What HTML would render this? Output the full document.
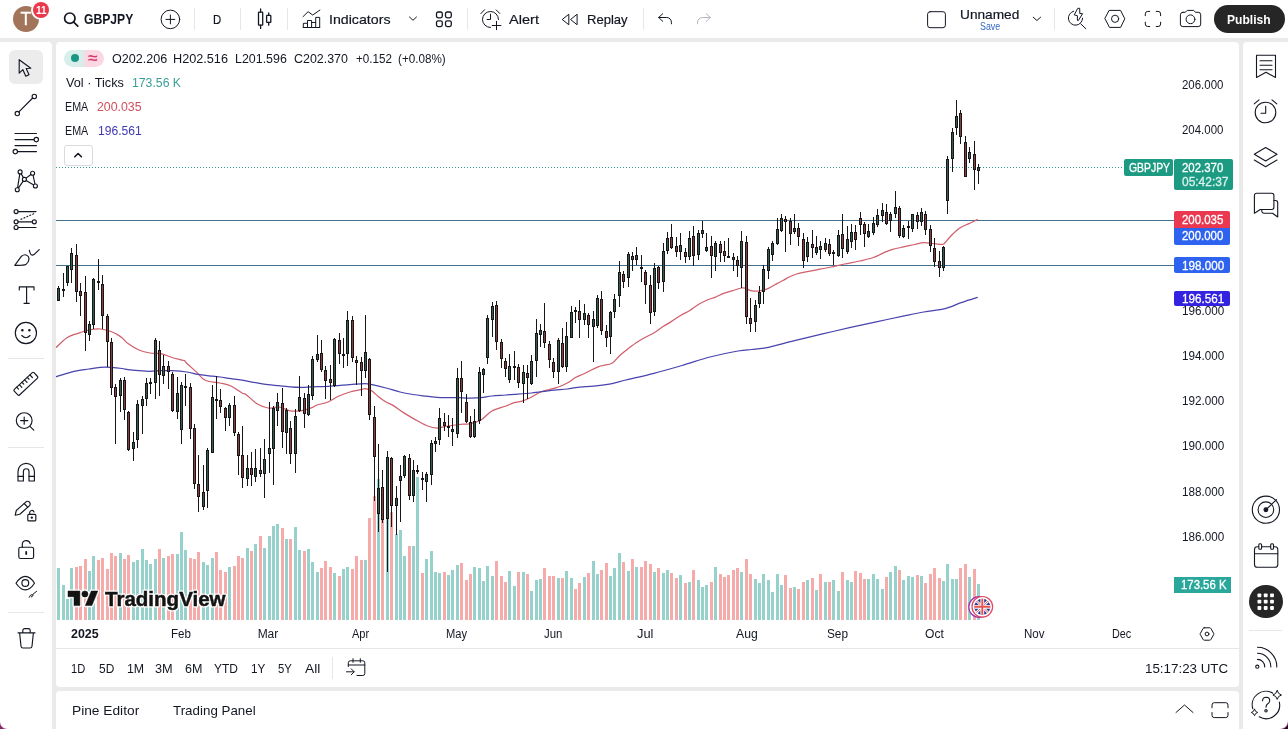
<!DOCTYPE html>
<html lang="en"><head><meta charset="utf-8"><title>GBPJPY chart</title>
<style>
*{box-sizing:border-box;margin:0;padding:0}
html,body{width:1288px;height:729px;overflow:hidden;background:#eaeaea;font-family:"Liberation Sans","DejaVu Sans",sans-serif;color:#131722}
.abs{position:absolute}
.panel{position:absolute;background:#fff}
.t{position:absolute;white-space:nowrap;line-height:16px;height:16px;font-size:13px;color:#131722}
.tag{position:absolute;border-radius:2px;z-index:2}
.vsep{position:absolute;width:1px;background:#e6e7eb}
.hsep{position:absolute;height:1px;background:#e6e7eb}
svg{overflow:visible}
.ic{position:absolute;fill:none;stroke:#131722;stroke-width:1;stroke-linecap:round;stroke-linejoin:round}
</style></head><body>
<!-- panels -->
<div class="panel" id="topbar" style="left:0;top:0;width:1288px;height:38px"></div>
<div class="panel" id="leftbar" style="left:0;top:42px;width:52px;height:687px;border-radius:0 4px 0 0"></div>
<div class="panel" id="chartpane" style="left:56px;top:42px;width:1183px;height:645px;border-radius:4px"></div>
<div class="panel" id="botpane" style="left:56px;top:691px;width:1183px;height:38px;border-radius:4px 4px 0 0"></div>
<div class="panel" id="rightbar" style="left:1243px;top:42px;width:45px;height:687px;border-radius:4px 0 0 0"></div>

<svg class="abs" style="left:0;top:0" width="1288" height="729" viewBox="0 0 1288 729" shape-rendering="crispEdges"><rect x="57" y="568.1" width="3" height="51.9" fill="#96d1cc"/><rect x="62" y="585.2" width="3" height="34.8" fill="#96d1cc"/><rect x="66" y="599.2" width="3" height="20.8" fill="#96d1cc"/><rect x="70" y="568.1" width="3" height="51.9" fill="#96d1cc"/><rect x="75" y="567.0" width="3" height="53.0" fill="#f4abaa"/><rect x="79" y="566.3" width="3" height="53.7" fill="#f4abaa"/><rect x="84" y="558.5" width="3" height="61.5" fill="#f4abaa"/><rect x="88" y="571.2" width="3" height="48.8" fill="#96d1cc"/><rect x="92" y="556.0" width="3" height="64.0" fill="#96d1cc"/><rect x="97" y="560.3" width="3" height="59.7" fill="#f4abaa"/><rect x="101" y="558.3" width="3" height="61.7" fill="#f4abaa"/><rect x="106" y="569.0" width="3" height="51.0" fill="#f4abaa"/><rect x="110" y="553.2" width="3" height="66.8" fill="#f4abaa"/><rect x="114" y="556.0" width="3" height="64.0" fill="#f4abaa"/><rect x="119" y="553.2" width="3" height="66.8" fill="#96d1cc"/><rect x="123" y="559.0" width="3" height="61.0" fill="#f4abaa"/><rect x="127" y="555.3" width="3" height="64.7" fill="#f4abaa"/><rect x="132" y="562.0" width="3" height="58.0" fill="#96d1cc"/><rect x="136" y="560.3" width="3" height="59.7" fill="#96d1cc"/><rect x="141" y="549.4" width="3" height="70.6" fill="#96d1cc"/><rect x="145" y="560.3" width="3" height="59.7" fill="#96d1cc"/><rect x="149" y="564.0" width="3" height="56.0" fill="#96d1cc"/><rect x="154" y="559.0" width="3" height="61.0" fill="#96d1cc"/><rect x="158" y="549.4" width="3" height="70.6" fill="#f4abaa"/><rect x="162" y="558.3" width="3" height="61.7" fill="#96d1cc"/><rect x="167" y="556.0" width="3" height="64.0" fill="#f4abaa"/><rect x="171" y="554.2" width="3" height="65.8" fill="#f4abaa"/><rect x="176" y="554.2" width="3" height="65.8" fill="#96d1cc"/><rect x="180" y="532.0" width="3" height="88.0" fill="#96d1cc"/><rect x="184" y="550.2" width="3" height="69.8" fill="#96d1cc"/><rect x="189" y="558.3" width="3" height="61.7" fill="#f4abaa"/><rect x="193" y="559.0" width="3" height="61.0" fill="#f4abaa"/><rect x="197" y="552.3" width="3" height="67.7" fill="#f4abaa"/><rect x="202" y="562.0" width="3" height="58.0" fill="#96d1cc"/><rect x="206" y="565.0" width="3" height="55.0" fill="#96d1cc"/><rect x="211" y="558.3" width="3" height="61.7" fill="#96d1cc"/><rect x="215" y="552.3" width="3" height="67.7" fill="#f4abaa"/><rect x="219" y="570.4" width="3" height="49.6" fill="#f4abaa"/><rect x="224" y="572.4" width="3" height="47.6" fill="#f4abaa"/><rect x="228" y="567.0" width="3" height="53.0" fill="#96d1cc"/><rect x="233" y="566.3" width="3" height="53.7" fill="#f4abaa"/><rect x="237" y="556.2" width="3" height="63.8" fill="#f4abaa"/><rect x="241" y="558.3" width="3" height="61.7" fill="#f4abaa"/><rect x="246" y="548.2" width="3" height="71.8" fill="#96d1cc"/><rect x="250" y="551.2" width="3" height="68.8" fill="#f4abaa"/><rect x="254" y="544.0" width="3" height="76.0" fill="#96d1cc"/><rect x="259" y="536.0" width="3" height="84.0" fill="#f4abaa"/><rect x="263" y="548.2" width="3" height="71.8" fill="#96d1cc"/><rect x="268" y="536.0" width="3" height="84.0" fill="#96d1cc"/><rect x="272" y="526.0" width="3" height="94.0" fill="#96d1cc"/><rect x="276" y="524.4" width="3" height="95.6" fill="#96d1cc"/><rect x="281" y="528.3" width="3" height="91.7" fill="#f4abaa"/><rect x="285" y="539.0" width="3" height="81.0" fill="#96d1cc"/><rect x="289" y="539.0" width="3" height="81.0" fill="#f4abaa"/><rect x="294" y="527.0" width="3" height="93.0" fill="#96d1cc"/><rect x="298" y="550.2" width="3" height="69.8" fill="#96d1cc"/><rect x="303" y="551.2" width="3" height="68.8" fill="#f4abaa"/><rect x="307" y="549.3" width="3" height="70.7" fill="#96d1cc"/><rect x="311" y="562.2" width="3" height="57.8" fill="#96d1cc"/><rect x="316" y="572.4" width="3" height="47.6" fill="#96d1cc"/><rect x="320" y="568.0" width="3" height="52.0" fill="#f4abaa"/><rect x="324" y="561.3" width="3" height="58.7" fill="#f4abaa"/><rect x="329" y="567.0" width="3" height="53.0" fill="#f4abaa"/><rect x="333" y="573.0" width="3" height="47.0" fill="#96d1cc"/><rect x="338" y="576.0" width="3" height="44.0" fill="#f4abaa"/><rect x="342" y="569.0" width="3" height="51.0" fill="#96d1cc"/><rect x="346" y="567.0" width="3" height="53.0" fill="#96d1cc"/><rect x="351" y="569.0" width="3" height="51.0" fill="#f4abaa"/><rect x="355" y="556.2" width="3" height="63.8" fill="#f4abaa"/><rect x="360" y="560.0" width="3" height="60.0" fill="#f4abaa"/><rect x="364" y="560.0" width="3" height="60.0" fill="#96d1cc"/><rect x="368" y="518.0" width="3" height="102.0" fill="#f4abaa"/><rect x="373" y="495.5" width="3" height="124.5" fill="#f4abaa"/><rect x="377" y="479.0" width="3" height="141.0" fill="#96d1cc"/><rect x="381" y="500.0" width="3" height="120.0" fill="#f4abaa"/><rect x="386" y="492.0" width="3" height="128.0" fill="#96d1cc"/><rect x="390" y="512.0" width="3" height="108.0" fill="#f4abaa"/><rect x="395" y="534.0" width="3" height="86.0" fill="#96d1cc"/><rect x="399" y="530.0" width="3" height="90.0" fill="#96d1cc"/><rect x="403" y="556.2" width="3" height="63.8" fill="#96d1cc"/><rect x="408" y="546.3" width="3" height="73.7" fill="#f4abaa"/><rect x="412" y="546.3" width="3" height="73.7" fill="#96d1cc"/><rect x="416" y="476.5" width="3" height="143.5" fill="#96d1cc"/><rect x="421" y="573.0" width="3" height="47.0" fill="#f4abaa"/><rect x="425" y="559.2" width="3" height="60.8" fill="#96d1cc"/><rect x="430" y="551.0" width="3" height="69.0" fill="#96d1cc"/><rect x="434" y="572.0" width="3" height="48.0" fill="#96d1cc"/><rect x="438" y="573.0" width="3" height="47.0" fill="#96d1cc"/><rect x="443" y="572.0" width="3" height="48.0" fill="#f4abaa"/><rect x="447" y="575.0" width="3" height="45.0" fill="#96d1cc"/><rect x="451" y="570.0" width="3" height="50.0" fill="#96d1cc"/><rect x="456" y="565.2" width="3" height="54.8" fill="#96d1cc"/><rect x="460" y="563.2" width="3" height="56.8" fill="#f4abaa"/><rect x="465" y="580.0" width="3" height="40.0" fill="#f4abaa"/><rect x="469" y="574.0" width="3" height="46.0" fill="#f4abaa"/><rect x="473" y="567.2" width="3" height="52.8" fill="#96d1cc"/><rect x="478" y="568.2" width="3" height="51.8" fill="#96d1cc"/><rect x="482" y="581.0" width="3" height="39.0" fill="#96d1cc"/><rect x="486" y="566.2" width="3" height="53.8" fill="#96d1cc"/><rect x="491" y="576.0" width="3" height="44.0" fill="#96d1cc"/><rect x="495" y="561.2" width="3" height="58.8" fill="#f4abaa"/><rect x="500" y="576.0" width="3" height="44.0" fill="#f4abaa"/><rect x="504" y="582.0" width="3" height="38.0" fill="#f4abaa"/><rect x="508" y="571.0" width="3" height="49.0" fill="#96d1cc"/><rect x="513" y="586.0" width="3" height="34.0" fill="#96d1cc"/><rect x="517" y="572.0" width="3" height="48.0" fill="#f4abaa"/><rect x="522" y="571.9" width="3" height="48.1" fill="#96d1cc"/><rect x="526" y="574.1" width="3" height="45.9" fill="#f4abaa"/><rect x="530" y="590.9" width="3" height="29.1" fill="#96d1cc"/><rect x="535" y="580.0" width="3" height="40.0" fill="#96d1cc"/><rect x="539" y="579.2" width="3" height="40.8" fill="#96d1cc"/><rect x="543" y="568.2" width="3" height="51.8" fill="#f4abaa"/><rect x="548" y="576.0" width="3" height="44.0" fill="#f4abaa"/><rect x="552" y="576.0" width="3" height="44.0" fill="#f4abaa"/><rect x="557" y="578.2" width="3" height="41.8" fill="#96d1cc"/><rect x="561" y="578.2" width="3" height="41.8" fill="#f4abaa"/><rect x="565" y="571.0" width="3" height="49.0" fill="#96d1cc"/><rect x="570" y="578.2" width="3" height="41.8" fill="#96d1cc"/><rect x="574" y="589.0" width="3" height="31.0" fill="#f4abaa"/><rect x="578" y="583.0" width="3" height="37.0" fill="#f4abaa"/><rect x="583" y="577.3" width="3" height="42.7" fill="#96d1cc"/><rect x="587" y="573.2" width="3" height="46.8" fill="#f4abaa"/><rect x="592" y="561.0" width="3" height="59.0" fill="#96d1cc"/><rect x="596" y="574.1" width="3" height="45.9" fill="#96d1cc"/><rect x="600" y="570.0" width="3" height="50.0" fill="#f4abaa"/><rect x="605" y="563.0" width="3" height="57.0" fill="#f4abaa"/><rect x="609" y="576.0" width="3" height="44.0" fill="#96d1cc"/><rect x="613" y="568.2" width="3" height="51.8" fill="#96d1cc"/><rect x="618" y="553.0" width="3" height="67.0" fill="#96d1cc"/><rect x="622" y="562.4" width="3" height="57.6" fill="#f4abaa"/><rect x="627" y="571.0" width="3" height="49.0" fill="#96d1cc"/><rect x="631" y="559.2" width="3" height="60.8" fill="#f4abaa"/><rect x="635" y="567.0" width="3" height="53.0" fill="#96d1cc"/><rect x="640" y="567.0" width="3" height="53.0" fill="#f4abaa"/><rect x="644" y="561.0" width="3" height="59.0" fill="#f4abaa"/><rect x="649" y="564.3" width="3" height="55.7" fill="#f4abaa"/><rect x="653" y="571.9" width="3" height="48.1" fill="#96d1cc"/><rect x="657" y="568.2" width="3" height="51.8" fill="#f4abaa"/><rect x="662" y="573.2" width="3" height="46.8" fill="#96d1cc"/><rect x="666" y="570.0" width="3" height="50.0" fill="#96d1cc"/><rect x="670" y="573.2" width="3" height="46.8" fill="#f4abaa"/><rect x="675" y="578.2" width="3" height="41.8" fill="#f4abaa"/><rect x="679" y="575.0" width="3" height="45.0" fill="#96d1cc"/><rect x="684" y="583.0" width="3" height="37.0" fill="#f4abaa"/><rect x="688" y="582.1" width="3" height="37.9" fill="#96d1cc"/><rect x="692" y="570.0" width="3" height="50.0" fill="#f4abaa"/><rect x="697" y="580.0" width="3" height="40.0" fill="#96d1cc"/><rect x="701" y="587.2" width="3" height="32.8" fill="#96d1cc"/><rect x="705" y="585.3" width="3" height="34.7" fill="#96d1cc"/><rect x="710" y="582.1" width="3" height="37.9" fill="#f4abaa"/><rect x="714" y="567.0" width="3" height="53.0" fill="#96d1cc"/><rect x="719" y="574.1" width="3" height="45.9" fill="#f4abaa"/><rect x="723" y="577.3" width="3" height="42.7" fill="#f4abaa"/><rect x="727" y="575.0" width="3" height="45.0" fill="#f4abaa"/><rect x="732" y="570.0" width="3" height="50.0" fill="#f4abaa"/><rect x="736" y="568.2" width="3" height="51.8" fill="#f4abaa"/><rect x="740" y="572.0" width="3" height="48.0" fill="#96d1cc"/><rect x="745" y="559.2" width="3" height="60.8" fill="#f4abaa"/><rect x="749" y="574.2" width="3" height="45.8" fill="#f4abaa"/><rect x="754" y="579.4" width="3" height="40.6" fill="#96d1cc"/><rect x="758" y="583.4" width="3" height="36.6" fill="#96d1cc"/><rect x="762" y="574.4" width="3" height="45.6" fill="#96d1cc"/><rect x="767" y="580.4" width="3" height="39.6" fill="#96d1cc"/><rect x="771" y="591.5" width="3" height="28.5" fill="#96d1cc"/><rect x="776" y="574.4" width="3" height="45.6" fill="#96d1cc"/><rect x="780" y="584.5" width="3" height="35.5" fill="#96d1cc"/><rect x="784" y="575.4" width="3" height="44.6" fill="#f4abaa"/><rect x="789" y="587.5" width="3" height="32.5" fill="#f4abaa"/><rect x="793" y="586.5" width="3" height="33.5" fill="#96d1cc"/><rect x="797" y="588.5" width="3" height="31.5" fill="#f4abaa"/><rect x="802" y="582.4" width="3" height="37.6" fill="#f4abaa"/><rect x="806" y="580.4" width="3" height="39.6" fill="#96d1cc"/><rect x="811" y="578.4" width="3" height="41.6" fill="#f4abaa"/><rect x="815" y="589.5" width="3" height="30.5" fill="#96d1cc"/><rect x="819" y="574.4" width="3" height="45.6" fill="#f4abaa"/><rect x="824" y="582.4" width="3" height="37.6" fill="#96d1cc"/><rect x="828" y="582.4" width="3" height="37.6" fill="#f4abaa"/><rect x="832" y="580.4" width="3" height="39.6" fill="#96d1cc"/><rect x="837" y="590.5" width="3" height="29.5" fill="#96d1cc"/><rect x="841" y="572.3" width="3" height="47.7" fill="#f4abaa"/><rect x="846" y="580.4" width="3" height="39.6" fill="#96d1cc"/><rect x="850" y="582.4" width="3" height="37.6" fill="#96d1cc"/><rect x="854" y="571.3" width="3" height="48.7" fill="#f4abaa"/><rect x="859" y="573.4" width="3" height="46.6" fill="#f4abaa"/><rect x="863" y="579.4" width="3" height="40.6" fill="#f4abaa"/><rect x="867" y="579.4" width="3" height="40.6" fill="#96d1cc"/><rect x="872" y="574.4" width="3" height="45.6" fill="#96d1cc"/><rect x="876" y="579.4" width="3" height="40.6" fill="#96d1cc"/><rect x="881" y="588.5" width="3" height="31.5" fill="#96d1cc"/><rect x="885" y="577.4" width="3" height="42.6" fill="#f4abaa"/><rect x="889" y="572.3" width="3" height="47.7" fill="#96d1cc"/><rect x="894" y="566.3" width="3" height="53.7" fill="#96d1cc"/><rect x="898" y="570.3" width="3" height="49.7" fill="#f4abaa"/><rect x="902" y="580.4" width="3" height="39.6" fill="#96d1cc"/><rect x="907" y="576.4" width="3" height="43.6" fill="#96d1cc"/><rect x="911" y="577.4" width="3" height="42.6" fill="#96d1cc"/><rect x="916" y="575.4" width="3" height="44.6" fill="#f4abaa"/><rect x="920" y="576.4" width="3" height="43.6" fill="#96d1cc"/><rect x="924" y="583.4" width="3" height="36.6" fill="#f4abaa"/><rect x="929" y="574.4" width="3" height="45.6" fill="#f4abaa"/><rect x="933" y="568.3" width="3" height="51.7" fill="#f4abaa"/><rect x="938" y="578.4" width="3" height="41.6" fill="#f4abaa"/><rect x="942" y="581.4" width="3" height="38.6" fill="#96d1cc"/><rect x="946" y="564.3" width="3" height="55.7" fill="#96d1cc"/><rect x="951" y="579.4" width="3" height="40.6" fill="#96d1cc"/><rect x="955" y="579.4" width="3" height="40.6" fill="#96d1cc"/><rect x="959" y="568.3" width="3" height="51.7" fill="#f4abaa"/><rect x="964" y="564.3" width="3" height="55.7" fill="#f4abaa"/><rect x="968" y="577.4" width="3" height="42.6" fill="#96d1cc"/><rect x="973" y="569.3" width="3" height="50.7" fill="#f4abaa"/><rect x="977" y="584.0" width="3" height="36.0" fill="#96d1cc"/><rect x="56" y="220" width="1120" height="1" fill="#44708f"/><rect x="56" y="265" width="1120" height="1" fill="#44708f"/><line x1="56" y1="167.5" x2="1124" y2="167.5" stroke="#2f978a" stroke-width="1" stroke-dasharray="1 2"/></svg><svg class="abs" style="left:0;top:0" width="1288" height="729" viewBox="0 0 1288 729"><path d="M56.0 347.6 C57.8 346.0 63.3 340.1 67.0 337.7 C70.7 335.3 74.3 334.6 78.0 333.3 C81.7 332.0 85.3 330.7 89.0 330.0 C92.7 329.3 96.3 328.8 100.0 329.0 C103.7 329.2 108.2 330.6 111.0 331.5 C113.8 332.4 115.2 333.4 117.0 334.4 C118.8 335.4 120.2 336.2 122.0 337.7 C123.8 339.2 125.2 341.6 128.0 343.6 C130.8 345.7 135.3 348.4 139.0 350.0 C142.7 351.6 146.3 352.4 150.0 353.0 C153.7 353.6 157.3 352.9 161.0 353.7 C164.7 354.4 168.2 356.4 172.0 357.5 C175.8 358.6 181.7 359.7 184.0 360.5 C186.3 361.3 183.7 360.3 186.0 362.5 C188.3 364.7 195.1 370.8 198.0 373.6 C200.9 376.4 201.7 378.0 203.5 379.3 C205.3 380.6 206.2 380.9 209.0 381.5 C211.8 382.1 216.3 382.2 220.0 383.0 C223.7 383.8 227.3 384.3 231.0 386.0 C234.7 387.7 239.5 391.6 242.0 393.0 C244.5 394.4 243.5 392.7 246.0 394.5 C248.5 396.3 253.3 401.4 257.0 403.7 C260.7 405.9 264.3 407.4 268.0 408.0 C271.7 408.6 275.3 406.5 279.0 407.0 C282.7 407.5 286.3 410.2 290.0 410.8 C293.7 411.4 297.3 411.3 301.0 410.8 C304.7 410.3 309.3 408.7 312.0 407.7 C314.7 406.7 314.3 405.9 317.0 405.0 C319.7 404.1 324.3 403.5 328.0 402.0 C331.7 400.5 335.3 397.7 339.0 396.0 C342.7 394.3 346.3 393.1 350.0 392.0 C353.7 390.9 358.5 390.3 361.0 389.7 C363.5 389.1 363.2 388.4 365.0 388.6 C366.8 388.8 369.8 389.6 372.0 391.0 C374.2 392.4 376.2 394.9 378.5 396.7 C380.8 398.5 383.6 400.6 386.0 402.0 C388.4 403.4 389.8 403.5 393.0 405.4 C396.2 407.3 400.9 411.0 405.0 413.6 C409.1 416.2 413.9 418.9 417.7 421.0 C421.5 423.1 424.4 424.8 427.6 426.0 C430.8 427.2 433.6 428.0 437.0 428.0 C440.4 428.0 444.3 426.6 448.0 426.0 C451.7 425.4 455.3 424.9 459.0 424.5 C462.7 424.1 466.3 424.4 470.0 423.6 C473.7 422.9 477.3 422.1 481.0 420.0 C484.7 417.9 487.8 413.3 492.0 411.0 C496.2 408.7 502.3 407.4 506.0 406.0 C509.7 404.6 511.2 403.6 514.0 402.7 C516.8 401.8 519.8 401.8 522.7 400.9 C525.7 399.9 528.7 398.5 531.7 397.0 C534.7 395.5 537.6 393.2 540.6 392.0 C543.6 390.8 546.5 390.3 549.5 389.5 C552.5 388.7 555.4 388.1 558.4 387.0 C561.4 385.9 564.4 384.6 567.3 383.0 C570.2 381.4 573.2 378.8 576.0 377.3 C578.8 375.8 580.3 375.5 584.0 373.8 C587.7 372.1 593.3 368.7 598.0 366.9 C602.7 365.1 608.4 365.1 612.0 363.2 C615.6 361.3 616.8 358.1 619.5 355.7 C622.2 353.2 625.4 350.8 628.4 348.5 C631.4 346.2 634.5 343.8 637.3 342.0 C640.1 340.2 642.2 339.0 645.0 337.5 C647.8 336.0 650.8 334.8 653.8 333.0 C656.8 331.2 659.7 328.7 662.7 326.8 C665.7 324.9 668.6 323.3 671.6 321.4 C674.6 319.5 677.6 317.3 680.6 315.5 C683.6 313.7 686.5 312.5 689.5 310.7 C692.5 308.9 695.4 306.3 698.4 304.5 C701.4 302.7 704.5 301.2 707.3 300.0 C710.1 298.8 712.2 298.4 715.0 297.3 C717.8 296.2 720.8 294.5 723.8 293.4 C726.8 292.3 729.7 291.5 732.7 290.6 C735.7 289.7 739.4 288.4 741.6 288.0 C743.8 287.6 744.5 288.0 746.0 288.4 C747.5 288.8 748.4 290.2 750.6 290.6 C752.9 291.0 756.5 291.4 759.5 291.0 C762.5 290.6 765.4 289.7 768.4 288.4 C771.4 287.1 774.9 284.7 777.3 283.4 C779.7 282.1 780.9 281.6 783.0 280.5 C785.1 279.4 787.4 277.8 789.7 276.7 C792.0 275.6 794.3 274.7 796.6 274.0 C798.9 273.3 800.0 273.0 803.4 272.3 C806.8 271.6 812.4 270.7 817.0 269.8 C821.6 268.9 826.4 268.0 831.0 267.0 C835.6 266.0 839.8 265.0 844.6 264.0 C849.4 263.0 854.9 262.1 859.7 261.0 C864.5 259.9 868.9 259.1 873.4 257.5 C877.9 255.9 883.6 252.7 887.0 251.3 C890.4 249.9 891.7 249.6 894.0 249.0 C896.3 248.4 897.6 248.2 901.0 247.5 C904.4 246.8 910.8 245.3 914.6 244.5 C918.4 243.7 920.8 242.8 923.8 242.6 C926.8 242.4 929.7 243.2 932.7 243.5 C935.7 243.8 939.7 244.4 941.6 244.4 C943.5 244.4 942.8 244.8 944.3 243.5 C945.8 242.2 948.1 238.8 950.6 236.3 C953.1 233.8 956.5 230.4 959.5 228.3 C962.5 226.2 965.4 225.4 968.4 223.9 C971.4 222.4 976.2 220.2 977.7 219.4" fill="none" stroke="#cf5f6b" stroke-width="1.25" stroke-linejoin="round"/><path d="M56.0 376.8 C57.8 376.2 63.3 374.3 67.0 373.3 C70.7 372.3 74.3 371.4 78.0 370.7 C81.7 370.0 85.3 369.6 89.0 369.0 C92.7 368.4 96.3 367.7 100.0 367.4 C103.7 367.1 107.3 367.2 111.0 367.4 C114.7 367.6 119.2 368.1 122.0 368.5 C124.8 368.9 125.2 369.2 128.0 369.6 C130.8 370.0 135.3 370.4 139.0 370.7 C142.7 371.0 146.3 371.3 150.0 371.3 C153.7 371.3 157.3 370.8 161.0 370.7 C164.7 370.6 167.7 370.5 172.0 370.7 C176.3 370.9 182.7 371.4 187.0 372.0 C191.3 372.6 194.3 373.7 198.0 374.3 C201.7 374.9 205.3 375.4 209.0 375.8 C212.7 376.2 216.3 376.5 220.0 377.0 C223.7 377.5 227.3 378.2 231.0 378.7 C234.7 379.2 237.7 379.5 242.0 380.2 C246.3 380.9 252.7 382.2 257.0 382.9 C261.3 383.6 264.3 384.1 268.0 384.6 C271.7 385.1 275.3 385.3 279.0 385.7 C282.7 386.1 286.3 386.5 290.0 386.8 C293.7 387.1 297.3 387.3 301.0 387.3 C304.7 387.3 307.5 387.0 312.0 386.8 C316.5 386.6 321.7 386.8 328.0 386.4 C334.3 386.0 343.8 385.1 350.0 384.6 C356.2 384.1 361.3 383.5 365.0 383.5 C368.7 383.5 368.5 383.9 372.0 384.6 C375.5 385.4 381.3 386.8 386.0 388.0 C390.7 389.2 395.5 390.9 400.0 392.0 C404.5 393.1 408.7 393.8 413.0 394.5 C417.3 395.2 422.0 395.7 426.0 396.2 C430.0 396.7 433.3 397.1 437.0 397.3 C440.7 397.6 444.3 397.6 448.0 397.7 C451.7 397.8 455.3 397.6 459.0 397.7 C462.7 397.8 466.3 398.0 470.0 398.0 C473.7 398.0 477.3 398.0 481.0 397.7 C484.7 397.4 487.8 396.4 492.0 396.0 C496.2 395.6 502.3 395.3 506.0 395.0 C509.7 394.7 509.7 394.6 514.0 394.3 C518.3 394.0 525.8 393.6 531.7 393.0 C537.6 392.4 543.6 391.4 549.5 390.7 C555.4 390.0 562.9 389.5 567.3 389.0 C571.7 388.5 570.9 388.3 576.0 387.7 C581.1 387.1 592.0 386.3 598.0 385.6 C604.0 384.9 607.3 384.5 612.0 383.6 C616.7 382.7 619.0 381.7 626.0 380.0 C633.0 378.3 644.7 375.7 654.0 373.3 C663.3 370.9 672.7 368.2 682.0 365.5 C691.3 362.8 700.7 359.4 710.0 357.0 C719.3 354.6 731.0 352.2 738.0 351.0 C745.0 349.8 747.1 350.0 751.7 349.5 C756.3 349.0 758.6 349.3 765.6 347.9 C772.6 346.5 784.3 343.2 793.6 340.9 C802.9 338.6 812.2 336.4 821.5 334.2 C830.8 332.0 840.2 329.8 849.5 327.7 C858.8 325.6 868.1 323.6 877.4 321.6 C886.7 319.6 897.7 317.3 905.4 315.7 C913.1 314.1 917.8 313.1 923.8 312.0 C929.8 310.9 937.1 310.3 941.6 309.4 C946.1 308.5 947.6 307.8 950.6 306.8 C953.6 305.8 956.5 304.3 959.5 303.2 C962.5 302.1 965.4 301.2 968.4 300.2 C971.4 299.2 976.2 297.8 977.7 297.3" fill="none" stroke="#4843ad" stroke-width="1.25" stroke-linejoin="round"/></svg><svg class="abs" style="left:0;top:0" width="1288" height="729" viewBox="0 0 1288 729" shape-rendering="crispEdges"><rect x="58" y="286" width="1" height="15" fill="#161616"/><rect x="57" y="288" width="3" height="13" fill="#161616"/><rect x="58" y="289" width="1" height="11" fill="#365a50"/><rect x="63" y="273" width="1" height="24" fill="#161616"/><rect x="62" y="289" width="3" height="2" fill="#161616"/><rect x="67" y="266" width="1" height="20" fill="#161616"/><rect x="66" y="266" width="3" height="17" fill="#161616"/><rect x="67" y="267" width="1" height="15" fill="#365a50"/><rect x="71" y="248" width="1" height="35" fill="#161616"/><rect x="70" y="253" width="3" height="17" fill="#161616"/><rect x="71" y="254" width="1" height="15" fill="#365a50"/><rect x="76" y="244" width="1" height="58" fill="#161616"/><rect x="75" y="255" width="3" height="37" fill="#161616"/><rect x="76" y="256" width="1" height="35" fill="#8a3d3f"/><rect x="80" y="283" width="1" height="33" fill="#161616"/><rect x="79" y="291" width="3" height="5" fill="#161616"/><rect x="80" y="292" width="1" height="3" fill="#8a3d3f"/><rect x="85" y="276" width="1" height="75" fill="#161616"/><rect x="84" y="292" width="3" height="41" fill="#161616"/><rect x="85" y="293" width="1" height="39" fill="#8a3d3f"/><rect x="89" y="321" width="1" height="20" fill="#161616"/><rect x="88" y="324" width="3" height="11" fill="#161616"/><rect x="89" y="325" width="1" height="9" fill="#365a50"/><rect x="93" y="278" width="1" height="51" fill="#161616"/><rect x="92" y="279" width="3" height="46" fill="#161616"/><rect x="93" y="280" width="1" height="44" fill="#365a50"/><rect x="98" y="259" width="1" height="31" fill="#161616"/><rect x="97" y="281" width="3" height="2" fill="#161616"/><rect x="102" y="275" width="1" height="54" fill="#161616"/><rect x="101" y="284" width="3" height="32" fill="#161616"/><rect x="102" y="285" width="1" height="30" fill="#8a3d3f"/><rect x="107" y="314" width="1" height="53" fill="#161616"/><rect x="106" y="316" width="3" height="26" fill="#161616"/><rect x="107" y="317" width="1" height="24" fill="#8a3d3f"/><rect x="111" y="338" width="1" height="57" fill="#161616"/><rect x="110" y="342" width="3" height="46" fill="#161616"/><rect x="111" y="343" width="1" height="44" fill="#8a3d3f"/><rect x="115" y="384" width="1" height="60" fill="#161616"/><rect x="114" y="387" width="3" height="10" fill="#161616"/><rect x="115" y="388" width="1" height="8" fill="#8a3d3f"/><rect x="120" y="378" width="1" height="34" fill="#161616"/><rect x="119" y="380" width="3" height="16" fill="#161616"/><rect x="120" y="381" width="1" height="14" fill="#365a50"/><rect x="124" y="377" width="1" height="43" fill="#161616"/><rect x="123" y="380" width="3" height="30" fill="#161616"/><rect x="124" y="381" width="1" height="28" fill="#8a3d3f"/><rect x="128" y="411" width="1" height="40" fill="#161616"/><rect x="127" y="412" width="3" height="38" fill="#161616"/><rect x="128" y="413" width="1" height="36" fill="#8a3d3f"/><rect x="133" y="432" width="1" height="29" fill="#161616"/><rect x="132" y="442" width="3" height="7" fill="#161616"/><rect x="133" y="443" width="1" height="5" fill="#365a50"/><rect x="137" y="400" width="1" height="48" fill="#161616"/><rect x="136" y="404" width="3" height="36" fill="#161616"/><rect x="137" y="405" width="1" height="34" fill="#365a50"/><rect x="142" y="396" width="1" height="38" fill="#161616"/><rect x="141" y="399" width="3" height="7" fill="#161616"/><rect x="142" y="400" width="1" height="5" fill="#365a50"/><rect x="146" y="378" width="1" height="28" fill="#161616"/><rect x="145" y="383" width="3" height="16" fill="#161616"/><rect x="146" y="384" width="1" height="14" fill="#365a50"/><rect x="150" y="378" width="1" height="16" fill="#161616"/><rect x="149" y="382" width="3" height="2" fill="#161616"/><rect x="155" y="338" width="1" height="61" fill="#161616"/><rect x="154" y="340" width="3" height="43" fill="#161616"/><rect x="155" y="341" width="1" height="41" fill="#365a50"/><rect x="159" y="341" width="1" height="55" fill="#161616"/><rect x="158" y="350" width="3" height="25" fill="#161616"/><rect x="159" y="351" width="1" height="23" fill="#8a3d3f"/><rect x="163" y="355" width="1" height="29" fill="#161616"/><rect x="162" y="366" width="3" height="10" fill="#161616"/><rect x="163" y="367" width="1" height="8" fill="#365a50"/><rect x="168" y="361" width="1" height="28" fill="#161616"/><rect x="167" y="366" width="3" height="6" fill="#161616"/><rect x="168" y="367" width="1" height="4" fill="#8a3d3f"/><rect x="172" y="372" width="1" height="40" fill="#161616"/><rect x="171" y="374" width="3" height="37" fill="#161616"/><rect x="172" y="375" width="1" height="35" fill="#8a3d3f"/><rect x="177" y="377" width="1" height="42" fill="#161616"/><rect x="176" y="393" width="3" height="19" fill="#161616"/><rect x="177" y="394" width="1" height="17" fill="#365a50"/><rect x="181" y="382" width="1" height="62" fill="#161616"/><rect x="180" y="385" width="3" height="45" fill="#161616"/><rect x="181" y="386" width="1" height="43" fill="#365a50"/><rect x="185" y="374" width="1" height="32" fill="#161616"/><rect x="184" y="386" width="3" height="2" fill="#161616"/><rect x="190" y="383" width="1" height="56" fill="#161616"/><rect x="189" y="387" width="3" height="42" fill="#161616"/><rect x="190" y="388" width="1" height="40" fill="#8a3d3f"/><rect x="194" y="424" width="1" height="65" fill="#161616"/><rect x="193" y="428" width="3" height="56" fill="#161616"/><rect x="194" y="429" width="1" height="54" fill="#8a3d3f"/><rect x="198" y="455" width="1" height="57" fill="#161616"/><rect x="197" y="484" width="3" height="13" fill="#161616"/><rect x="198" y="485" width="1" height="11" fill="#8a3d3f"/><rect x="203" y="465" width="1" height="45" fill="#161616"/><rect x="202" y="492" width="3" height="15" fill="#161616"/><rect x="203" y="493" width="1" height="13" fill="#365a50"/><rect x="207" y="448" width="1" height="60" fill="#161616"/><rect x="206" y="450" width="3" height="41" fill="#161616"/><rect x="207" y="451" width="1" height="39" fill="#365a50"/><rect x="212" y="385" width="1" height="68" fill="#161616"/><rect x="211" y="397" width="3" height="56" fill="#161616"/><rect x="212" y="398" width="1" height="54" fill="#365a50"/><rect x="216" y="376" width="1" height="43" fill="#161616"/><rect x="215" y="399" width="3" height="2" fill="#161616"/><rect x="220" y="389" width="1" height="24" fill="#161616"/><rect x="219" y="400" width="3" height="7" fill="#161616"/><rect x="220" y="401" width="1" height="5" fill="#8a3d3f"/><rect x="225" y="407" width="1" height="24" fill="#161616"/><rect x="224" y="408" width="3" height="10" fill="#161616"/><rect x="225" y="409" width="1" height="8" fill="#8a3d3f"/><rect x="229" y="403" width="1" height="23" fill="#161616"/><rect x="228" y="405" width="3" height="13" fill="#161616"/><rect x="229" y="406" width="1" height="11" fill="#365a50"/><rect x="234" y="396" width="1" height="40" fill="#161616"/><rect x="233" y="405" width="3" height="28" fill="#161616"/><rect x="234" y="406" width="1" height="26" fill="#8a3d3f"/><rect x="238" y="432" width="1" height="43" fill="#161616"/><rect x="237" y="434" width="3" height="22" fill="#161616"/><rect x="238" y="435" width="1" height="20" fill="#8a3d3f"/><rect x="242" y="426" width="1" height="62" fill="#161616"/><rect x="241" y="455" width="3" height="23" fill="#161616"/><rect x="242" y="456" width="1" height="21" fill="#8a3d3f"/><rect x="247" y="455" width="1" height="31" fill="#161616"/><rect x="246" y="468" width="3" height="11" fill="#161616"/><rect x="247" y="469" width="1" height="9" fill="#365a50"/><rect x="251" y="452" width="1" height="34" fill="#161616"/><rect x="250" y="468" width="3" height="7" fill="#161616"/><rect x="251" y="469" width="1" height="5" fill="#8a3d3f"/><rect x="255" y="449" width="1" height="33" fill="#161616"/><rect x="254" y="468" width="3" height="9" fill="#161616"/><rect x="255" y="469" width="1" height="7" fill="#365a50"/><rect x="260" y="448" width="1" height="29" fill="#161616"/><rect x="259" y="470" width="3" height="4" fill="#161616"/><rect x="260" y="471" width="1" height="2" fill="#8a3d3f"/><rect x="264" y="439" width="1" height="59" fill="#161616"/><rect x="263" y="459" width="3" height="15" fill="#161616"/><rect x="264" y="460" width="1" height="13" fill="#365a50"/><rect x="269" y="402" width="1" height="71" fill="#161616"/><rect x="268" y="448" width="3" height="6" fill="#161616"/><rect x="269" y="449" width="1" height="4" fill="#365a50"/><rect x="273" y="406" width="1" height="79" fill="#161616"/><rect x="272" y="408" width="3" height="41" fill="#161616"/><rect x="273" y="409" width="1" height="39" fill="#365a50"/><rect x="277" y="393" width="1" height="33" fill="#161616"/><rect x="276" y="402" width="3" height="9" fill="#161616"/><rect x="277" y="403" width="1" height="7" fill="#365a50"/><rect x="282" y="388" width="1" height="60" fill="#161616"/><rect x="281" y="403" width="3" height="29" fill="#161616"/><rect x="282" y="404" width="1" height="27" fill="#8a3d3f"/><rect x="286" y="408" width="1" height="46" fill="#161616"/><rect x="285" y="410" width="3" height="23" fill="#161616"/><rect x="286" y="411" width="1" height="21" fill="#365a50"/><rect x="290" y="421" width="1" height="43" fill="#161616"/><rect x="289" y="428" width="3" height="26" fill="#161616"/><rect x="290" y="429" width="1" height="24" fill="#8a3d3f"/><rect x="295" y="409" width="1" height="64" fill="#161616"/><rect x="294" y="416" width="3" height="38" fill="#161616"/><rect x="295" y="417" width="1" height="36" fill="#365a50"/><rect x="299" y="376" width="1" height="36" fill="#161616"/><rect x="298" y="397" width="3" height="14" fill="#161616"/><rect x="299" y="398" width="1" height="12" fill="#365a50"/><rect x="304" y="393" width="1" height="35" fill="#161616"/><rect x="303" y="398" width="3" height="16" fill="#161616"/><rect x="304" y="399" width="1" height="14" fill="#8a3d3f"/><rect x="308" y="385" width="1" height="31" fill="#161616"/><rect x="307" y="394" width="3" height="21" fill="#161616"/><rect x="308" y="395" width="1" height="19" fill="#365a50"/><rect x="312" y="356" width="1" height="44" fill="#161616"/><rect x="311" y="359" width="3" height="37" fill="#161616"/><rect x="312" y="360" width="1" height="35" fill="#365a50"/><rect x="317" y="335" width="1" height="27" fill="#161616"/><rect x="316" y="354" width="3" height="6" fill="#161616"/><rect x="317" y="355" width="1" height="4" fill="#365a50"/><rect x="321" y="340" width="1" height="32" fill="#161616"/><rect x="320" y="353" width="3" height="17" fill="#161616"/><rect x="321" y="354" width="1" height="15" fill="#8a3d3f"/><rect x="325" y="366" width="1" height="33" fill="#161616"/><rect x="324" y="370" width="3" height="11" fill="#161616"/><rect x="325" y="371" width="1" height="9" fill="#8a3d3f"/><rect x="330" y="365" width="1" height="35" fill="#161616"/><rect x="329" y="379" width="3" height="4" fill="#161616"/><rect x="330" y="380" width="1" height="2" fill="#8a3d3f"/><rect x="334" y="338" width="1" height="49" fill="#161616"/><rect x="333" y="339" width="3" height="47" fill="#161616"/><rect x="334" y="340" width="1" height="45" fill="#365a50"/><rect x="339" y="333" width="1" height="31" fill="#161616"/><rect x="338" y="340" width="3" height="14" fill="#161616"/><rect x="339" y="341" width="1" height="12" fill="#8a3d3f"/><rect x="343" y="338" width="1" height="30" fill="#161616"/><rect x="342" y="354" width="3" height="2" fill="#161616"/><rect x="347" y="311" width="1" height="55" fill="#161616"/><rect x="346" y="320" width="3" height="34" fill="#161616"/><rect x="347" y="321" width="1" height="32" fill="#365a50"/><rect x="352" y="316" width="1" height="46" fill="#161616"/><rect x="351" y="320" width="3" height="38" fill="#161616"/><rect x="352" y="321" width="1" height="36" fill="#8a3d3f"/><rect x="356" y="356" width="1" height="29" fill="#161616"/><rect x="355" y="360" width="3" height="3" fill="#161616"/><rect x="356" y="361" width="1" height="1" fill="#8a3d3f"/><rect x="361" y="357" width="1" height="39" fill="#161616"/><rect x="360" y="362" width="3" height="9" fill="#161616"/><rect x="361" y="363" width="1" height="7" fill="#8a3d3f"/><rect x="365" y="315" width="1" height="63" fill="#161616"/><rect x="364" y="352" width="3" height="19" fill="#161616"/><rect x="365" y="353" width="1" height="17" fill="#365a50"/><rect x="369" y="358" width="1" height="62" fill="#161616"/><rect x="368" y="359" width="3" height="56" fill="#161616"/><rect x="369" y="360" width="1" height="54" fill="#8a3d3f"/><rect x="374" y="406" width="1" height="95" fill="#161616"/><rect x="373" y="417" width="3" height="40" fill="#161616"/><rect x="374" y="418" width="1" height="38" fill="#8a3d3f"/><rect x="378" y="444" width="1" height="88" fill="#161616"/><rect x="377" y="488" width="3" height="26" fill="#161616"/><rect x="378" y="489" width="1" height="24" fill="#365a50"/><rect x="382" y="470" width="1" height="53" fill="#161616"/><rect x="381" y="487" width="3" height="33" fill="#161616"/><rect x="382" y="488" width="1" height="31" fill="#8a3d3f"/><rect x="387" y="451" width="1" height="121" fill="#161616"/><rect x="386" y="457" width="3" height="62" fill="#161616"/><rect x="387" y="458" width="1" height="60" fill="#365a50"/><rect x="391" y="457" width="1" height="70" fill="#161616"/><rect x="390" y="458" width="3" height="48" fill="#161616"/><rect x="391" y="459" width="1" height="46" fill="#8a3d3f"/><rect x="396" y="486" width="1" height="49" fill="#161616"/><rect x="395" y="498" width="3" height="8" fill="#161616"/><rect x="396" y="499" width="1" height="6" fill="#365a50"/><rect x="400" y="465" width="1" height="57" fill="#161616"/><rect x="399" y="476" width="3" height="5" fill="#161616"/><rect x="400" y="477" width="1" height="3" fill="#365a50"/><rect x="404" y="455" width="1" height="23" fill="#161616"/><rect x="403" y="456" width="3" height="20" fill="#161616"/><rect x="404" y="457" width="1" height="18" fill="#365a50"/><rect x="409" y="454" width="1" height="46" fill="#161616"/><rect x="408" y="458" width="3" height="38" fill="#161616"/><rect x="409" y="459" width="1" height="36" fill="#8a3d3f"/><rect x="413" y="460" width="1" height="42" fill="#161616"/><rect x="412" y="470" width="3" height="26" fill="#161616"/><rect x="413" y="471" width="1" height="24" fill="#365a50"/><rect x="417" y="465" width="1" height="9" fill="#161616"/><rect x="416" y="470" width="3" height="2" fill="#161616"/><rect x="422" y="472" width="1" height="18" fill="#161616"/><rect x="421" y="478" width="3" height="2" fill="#161616"/><rect x="426" y="472" width="1" height="30" fill="#161616"/><rect x="425" y="474" width="3" height="8" fill="#161616"/><rect x="426" y="475" width="1" height="6" fill="#365a50"/><rect x="431" y="440" width="1" height="45" fill="#161616"/><rect x="430" y="443" width="3" height="32" fill="#161616"/><rect x="431" y="444" width="1" height="30" fill="#365a50"/><rect x="435" y="437" width="1" height="15" fill="#161616"/><rect x="434" y="441" width="3" height="3" fill="#161616"/><rect x="435" y="442" width="1" height="1" fill="#365a50"/><rect x="439" y="408" width="1" height="37" fill="#161616"/><rect x="438" y="418" width="3" height="22" fill="#161616"/><rect x="439" y="419" width="1" height="20" fill="#365a50"/><rect x="444" y="413" width="1" height="18" fill="#161616"/><rect x="443" y="422" width="3" height="4" fill="#161616"/><rect x="444" y="423" width="1" height="2" fill="#8a3d3f"/><rect x="448" y="415" width="1" height="22" fill="#161616"/><rect x="447" y="426" width="3" height="2" fill="#161616"/><rect x="452" y="418" width="1" height="28" fill="#161616"/><rect x="451" y="429" width="3" height="3" fill="#161616"/><rect x="452" y="430" width="1" height="1" fill="#365a50"/><rect x="457" y="368" width="1" height="70" fill="#161616"/><rect x="456" y="378" width="3" height="56" fill="#161616"/><rect x="457" y="379" width="1" height="54" fill="#365a50"/><rect x="461" y="361" width="1" height="52" fill="#161616"/><rect x="460" y="378" width="3" height="14" fill="#161616"/><rect x="461" y="379" width="1" height="12" fill="#8a3d3f"/><rect x="466" y="394" width="1" height="29" fill="#161616"/><rect x="465" y="402" width="3" height="20" fill="#161616"/><rect x="466" y="403" width="1" height="18" fill="#8a3d3f"/><rect x="470" y="416" width="1" height="22" fill="#161616"/><rect x="469" y="422" width="3" height="15" fill="#161616"/><rect x="470" y="423" width="1" height="13" fill="#8a3d3f"/><rect x="474" y="409" width="1" height="29" fill="#161616"/><rect x="473" y="421" width="3" height="16" fill="#161616"/><rect x="474" y="422" width="1" height="14" fill="#365a50"/><rect x="479" y="367" width="1" height="57" fill="#161616"/><rect x="478" y="372" width="3" height="49" fill="#161616"/><rect x="479" y="373" width="1" height="47" fill="#365a50"/><rect x="483" y="368" width="1" height="25" fill="#161616"/><rect x="482" y="369" width="3" height="6" fill="#161616"/><rect x="483" y="370" width="1" height="4" fill="#365a50"/><rect x="487" y="315" width="1" height="49" fill="#161616"/><rect x="486" y="318" width="3" height="40" fill="#161616"/><rect x="487" y="319" width="1" height="38" fill="#365a50"/><rect x="492" y="302" width="1" height="35" fill="#161616"/><rect x="491" y="306" width="3" height="14" fill="#161616"/><rect x="492" y="307" width="1" height="12" fill="#365a50"/><rect x="496" y="301" width="1" height="49" fill="#161616"/><rect x="495" y="305" width="3" height="37" fill="#161616"/><rect x="496" y="306" width="1" height="35" fill="#8a3d3f"/><rect x="501" y="339" width="1" height="29" fill="#161616"/><rect x="500" y="342" width="3" height="17" fill="#161616"/><rect x="501" y="343" width="1" height="15" fill="#8a3d3f"/><rect x="505" y="358" width="1" height="19" fill="#161616"/><rect x="504" y="361" width="3" height="8" fill="#161616"/><rect x="505" y="362" width="1" height="6" fill="#8a3d3f"/><rect x="509" y="354" width="1" height="29" fill="#161616"/><rect x="508" y="366" width="3" height="14" fill="#161616"/><rect x="509" y="367" width="1" height="12" fill="#365a50"/><rect x="514" y="351" width="1" height="29" fill="#161616"/><rect x="513" y="366" width="3" height="2" fill="#161616"/><rect x="518" y="364" width="1" height="24" fill="#161616"/><rect x="517" y="367" width="3" height="16" fill="#161616"/><rect x="518" y="368" width="1" height="14" fill="#8a3d3f"/><rect x="523" y="365" width="1" height="38" fill="#161616"/><rect x="522" y="372" width="3" height="12" fill="#161616"/><rect x="523" y="373" width="1" height="10" fill="#365a50"/><rect x="527" y="365" width="1" height="34" fill="#161616"/><rect x="526" y="373" width="3" height="5" fill="#161616"/><rect x="527" y="374" width="1" height="3" fill="#8a3d3f"/><rect x="531" y="355" width="1" height="30" fill="#161616"/><rect x="530" y="361" width="3" height="23" fill="#161616"/><rect x="531" y="362" width="1" height="21" fill="#365a50"/><rect x="536" y="319" width="1" height="58" fill="#161616"/><rect x="535" y="333" width="3" height="28" fill="#161616"/><rect x="536" y="334" width="1" height="26" fill="#365a50"/><rect x="540" y="324" width="1" height="23" fill="#161616"/><rect x="539" y="330" width="3" height="5" fill="#161616"/><rect x="540" y="331" width="1" height="3" fill="#365a50"/><rect x="544" y="303" width="1" height="45" fill="#161616"/><rect x="543" y="331" width="3" height="12" fill="#161616"/><rect x="544" y="332" width="1" height="10" fill="#8a3d3f"/><rect x="549" y="341" width="1" height="27" fill="#161616"/><rect x="548" y="344" width="3" height="16" fill="#161616"/><rect x="549" y="345" width="1" height="14" fill="#8a3d3f"/><rect x="553" y="358" width="1" height="20" fill="#161616"/><rect x="552" y="362" width="3" height="10" fill="#161616"/><rect x="553" y="363" width="1" height="8" fill="#8a3d3f"/><rect x="558" y="338" width="1" height="46" fill="#161616"/><rect x="557" y="340" width="3" height="32" fill="#161616"/><rect x="558" y="341" width="1" height="30" fill="#365a50"/><rect x="562" y="328" width="1" height="40" fill="#161616"/><rect x="561" y="343" width="3" height="24" fill="#161616"/><rect x="562" y="344" width="1" height="22" fill="#8a3d3f"/><rect x="566" y="322" width="1" height="50" fill="#161616"/><rect x="565" y="336" width="3" height="31" fill="#161616"/><rect x="566" y="337" width="1" height="29" fill="#365a50"/><rect x="571" y="306" width="1" height="32" fill="#161616"/><rect x="570" y="312" width="3" height="26" fill="#161616"/><rect x="571" y="313" width="1" height="24" fill="#365a50"/><rect x="575" y="307" width="1" height="16" fill="#161616"/><rect x="574" y="310" width="3" height="2" fill="#161616"/><rect x="579" y="300" width="1" height="38" fill="#161616"/><rect x="578" y="311" width="3" height="9" fill="#161616"/><rect x="579" y="312" width="1" height="7" fill="#8a3d3f"/><rect x="584" y="304" width="1" height="21" fill="#161616"/><rect x="583" y="313" width="3" height="7" fill="#161616"/><rect x="584" y="314" width="1" height="5" fill="#365a50"/><rect x="588" y="313" width="1" height="25" fill="#161616"/><rect x="587" y="315" width="3" height="10" fill="#161616"/><rect x="588" y="316" width="1" height="8" fill="#8a3d3f"/><rect x="593" y="311" width="1" height="51" fill="#161616"/><rect x="592" y="319" width="3" height="8" fill="#161616"/><rect x="593" y="320" width="1" height="6" fill="#365a50"/><rect x="597" y="295" width="1" height="33" fill="#161616"/><rect x="596" y="298" width="3" height="28" fill="#161616"/><rect x="597" y="299" width="1" height="26" fill="#365a50"/><rect x="601" y="291" width="1" height="44" fill="#161616"/><rect x="600" y="299" width="3" height="32" fill="#161616"/><rect x="601" y="300" width="1" height="30" fill="#8a3d3f"/><rect x="606" y="325" width="1" height="22" fill="#161616"/><rect x="605" y="331" width="3" height="7" fill="#161616"/><rect x="606" y="332" width="1" height="5" fill="#8a3d3f"/><rect x="610" y="311" width="1" height="43" fill="#161616"/><rect x="609" y="312" width="3" height="25" fill="#161616"/><rect x="610" y="313" width="1" height="23" fill="#365a50"/><rect x="614" y="294" width="1" height="24" fill="#161616"/><rect x="613" y="299" width="3" height="13" fill="#161616"/><rect x="614" y="300" width="1" height="11" fill="#365a50"/><rect x="619" y="261" width="1" height="46" fill="#161616"/><rect x="618" y="272" width="3" height="24" fill="#161616"/><rect x="619" y="273" width="1" height="22" fill="#365a50"/><rect x="623" y="271" width="1" height="17" fill="#161616"/><rect x="622" y="274" width="3" height="8" fill="#161616"/><rect x="623" y="275" width="1" height="6" fill="#8a3d3f"/><rect x="628" y="252" width="1" height="35" fill="#161616"/><rect x="627" y="254" width="3" height="24" fill="#161616"/><rect x="628" y="255" width="1" height="22" fill="#365a50"/><rect x="632" y="252" width="1" height="19" fill="#161616"/><rect x="631" y="256" width="3" height="4" fill="#161616"/><rect x="632" y="257" width="1" height="2" fill="#8a3d3f"/><rect x="636" y="247" width="1" height="18" fill="#161616"/><rect x="635" y="255" width="3" height="5" fill="#161616"/><rect x="636" y="256" width="1" height="3" fill="#365a50"/><rect x="641" y="255" width="1" height="27" fill="#161616"/><rect x="640" y="267" width="3" height="2" fill="#161616"/><rect x="645" y="270" width="1" height="34" fill="#161616"/><rect x="644" y="272" width="3" height="13" fill="#161616"/><rect x="645" y="273" width="1" height="11" fill="#8a3d3f"/><rect x="650" y="275" width="1" height="49" fill="#161616"/><rect x="649" y="285" width="3" height="28" fill="#161616"/><rect x="650" y="286" width="1" height="26" fill="#8a3d3f"/><rect x="654" y="263" width="1" height="53" fill="#161616"/><rect x="653" y="268" width="3" height="44" fill="#161616"/><rect x="654" y="269" width="1" height="42" fill="#365a50"/><rect x="658" y="266" width="1" height="23" fill="#161616"/><rect x="657" y="267" width="3" height="16" fill="#161616"/><rect x="658" y="268" width="1" height="14" fill="#8a3d3f"/><rect x="663" y="243" width="1" height="49" fill="#161616"/><rect x="662" y="251" width="3" height="31" fill="#161616"/><rect x="663" y="252" width="1" height="29" fill="#365a50"/><rect x="667" y="232" width="1" height="22" fill="#161616"/><rect x="666" y="238" width="3" height="13" fill="#161616"/><rect x="667" y="239" width="1" height="11" fill="#365a50"/><rect x="671" y="224" width="1" height="25" fill="#161616"/><rect x="670" y="237" width="3" height="11" fill="#161616"/><rect x="671" y="238" width="1" height="9" fill="#8a3d3f"/><rect x="676" y="237" width="1" height="20" fill="#161616"/><rect x="675" y="246" width="3" height="6" fill="#161616"/><rect x="676" y="247" width="1" height="4" fill="#8a3d3f"/><rect x="680" y="233" width="1" height="27" fill="#161616"/><rect x="679" y="245" width="3" height="7" fill="#161616"/><rect x="680" y="246" width="1" height="5" fill="#365a50"/><rect x="685" y="248" width="1" height="15" fill="#161616"/><rect x="684" y="252" width="3" height="5" fill="#161616"/><rect x="685" y="253" width="1" height="3" fill="#8a3d3f"/><rect x="689" y="231" width="1" height="29" fill="#161616"/><rect x="688" y="238" width="3" height="19" fill="#161616"/><rect x="689" y="239" width="1" height="17" fill="#365a50"/><rect x="693" y="226" width="1" height="40" fill="#161616"/><rect x="692" y="236" width="3" height="20" fill="#161616"/><rect x="693" y="237" width="1" height="18" fill="#8a3d3f"/><rect x="698" y="230" width="1" height="30" fill="#161616"/><rect x="697" y="233" width="3" height="22" fill="#161616"/><rect x="698" y="234" width="1" height="20" fill="#365a50"/><rect x="702" y="221" width="1" height="17" fill="#161616"/><rect x="701" y="230" width="3" height="4" fill="#161616"/><rect x="702" y="231" width="1" height="2" fill="#365a50"/><rect x="706" y="233" width="1" height="19" fill="#161616"/><rect x="705" y="247" width="3" height="4" fill="#161616"/><rect x="706" y="248" width="1" height="2" fill="#365a50"/><rect x="711" y="236" width="1" height="42" fill="#161616"/><rect x="710" y="246" width="3" height="10" fill="#161616"/><rect x="711" y="247" width="1" height="8" fill="#8a3d3f"/><rect x="715" y="241" width="1" height="30" fill="#161616"/><rect x="714" y="243" width="3" height="14" fill="#161616"/><rect x="715" y="244" width="1" height="12" fill="#365a50"/><rect x="720" y="241" width="1" height="21" fill="#161616"/><rect x="719" y="244" width="3" height="9" fill="#161616"/><rect x="720" y="245" width="1" height="7" fill="#8a3d3f"/><rect x="724" y="241" width="1" height="21" fill="#161616"/><rect x="723" y="251" width="3" height="5" fill="#161616"/><rect x="724" y="252" width="1" height="3" fill="#8a3d3f"/><rect x="728" y="238" width="1" height="20" fill="#161616"/><rect x="727" y="256" width="3" height="2" fill="#161616"/><rect x="733" y="253" width="1" height="18" fill="#161616"/><rect x="732" y="257" width="3" height="3" fill="#161616"/><rect x="733" y="258" width="1" height="1" fill="#8a3d3f"/><rect x="737" y="256" width="1" height="21" fill="#161616"/><rect x="736" y="260" width="3" height="6" fill="#161616"/><rect x="737" y="261" width="1" height="4" fill="#8a3d3f"/><rect x="741" y="231" width="1" height="57" fill="#161616"/><rect x="740" y="241" width="3" height="27" fill="#161616"/><rect x="741" y="242" width="1" height="25" fill="#365a50"/><rect x="746" y="236" width="1" height="88" fill="#161616"/><rect x="745" y="242" width="3" height="75" fill="#161616"/><rect x="746" y="243" width="1" height="73" fill="#8a3d3f"/><rect x="750" y="298" width="1" height="34" fill="#161616"/><rect x="749" y="318" width="3" height="6" fill="#161616"/><rect x="750" y="319" width="1" height="4" fill="#8a3d3f"/><rect x="755" y="300" width="1" height="32" fill="#161616"/><rect x="754" y="305" width="3" height="17" fill="#161616"/><rect x="755" y="306" width="1" height="15" fill="#365a50"/><rect x="759" y="286" width="1" height="22" fill="#161616"/><rect x="758" y="292" width="3" height="12" fill="#161616"/><rect x="759" y="293" width="1" height="10" fill="#365a50"/><rect x="763" y="265" width="1" height="39" fill="#161616"/><rect x="762" y="269" width="3" height="23" fill="#161616"/><rect x="763" y="270" width="1" height="21" fill="#365a50"/><rect x="768" y="247" width="1" height="32" fill="#161616"/><rect x="767" y="249" width="3" height="22" fill="#161616"/><rect x="768" y="250" width="1" height="20" fill="#365a50"/><rect x="772" y="241" width="1" height="20" fill="#161616"/><rect x="771" y="243" width="3" height="12" fill="#161616"/><rect x="772" y="244" width="1" height="10" fill="#365a50"/><rect x="777" y="218" width="1" height="27" fill="#161616"/><rect x="776" y="229" width="3" height="15" fill="#161616"/><rect x="777" y="230" width="1" height="13" fill="#365a50"/><rect x="781" y="214" width="1" height="18" fill="#161616"/><rect x="780" y="218" width="3" height="13" fill="#161616"/><rect x="781" y="219" width="1" height="11" fill="#365a50"/><rect x="785" y="216" width="1" height="36" fill="#161616"/><rect x="784" y="219" width="3" height="3" fill="#161616"/><rect x="785" y="220" width="1" height="1" fill="#8a3d3f"/><rect x="790" y="218" width="1" height="27" fill="#161616"/><rect x="789" y="221" width="3" height="13" fill="#161616"/><rect x="790" y="222" width="1" height="11" fill="#8a3d3f"/><rect x="794" y="214" width="1" height="20" fill="#161616"/><rect x="793" y="228" width="3" height="4" fill="#161616"/><rect x="794" y="229" width="1" height="2" fill="#365a50"/><rect x="798" y="223" width="1" height="23" fill="#161616"/><rect x="797" y="228" width="3" height="9" fill="#161616"/><rect x="798" y="229" width="1" height="7" fill="#8a3d3f"/><rect x="803" y="233" width="1" height="35" fill="#161616"/><rect x="802" y="239" width="3" height="22" fill="#161616"/><rect x="803" y="240" width="1" height="20" fill="#8a3d3f"/><rect x="807" y="237" width="1" height="25" fill="#161616"/><rect x="806" y="242" width="3" height="15" fill="#161616"/><rect x="807" y="243" width="1" height="13" fill="#365a50"/><rect x="812" y="230" width="1" height="28" fill="#161616"/><rect x="811" y="244" width="3" height="4" fill="#161616"/><rect x="812" y="245" width="1" height="2" fill="#8a3d3f"/><rect x="816" y="236" width="1" height="19" fill="#161616"/><rect x="815" y="247" width="3" height="6" fill="#161616"/><rect x="816" y="248" width="1" height="4" fill="#365a50"/><rect x="820" y="241" width="1" height="18" fill="#161616"/><rect x="819" y="246" width="3" height="4" fill="#161616"/><rect x="820" y="247" width="1" height="2" fill="#8a3d3f"/><rect x="825" y="238" width="1" height="14" fill="#161616"/><rect x="824" y="243" width="3" height="7" fill="#161616"/><rect x="825" y="244" width="1" height="5" fill="#365a50"/><rect x="829" y="239" width="1" height="17" fill="#161616"/><rect x="828" y="244" width="3" height="10" fill="#161616"/><rect x="829" y="245" width="1" height="8" fill="#8a3d3f"/><rect x="833" y="250" width="1" height="15" fill="#161616"/><rect x="832" y="252" width="3" height="2" fill="#161616"/><rect x="838" y="230" width="1" height="27" fill="#161616"/><rect x="837" y="235" width="3" height="21" fill="#161616"/><rect x="838" y="236" width="1" height="19" fill="#365a50"/><rect x="842" y="214" width="1" height="44" fill="#161616"/><rect x="841" y="234" width="3" height="15" fill="#161616"/><rect x="842" y="235" width="1" height="13" fill="#8a3d3f"/><rect x="847" y="226" width="1" height="28" fill="#161616"/><rect x="846" y="239" width="3" height="13" fill="#161616"/><rect x="847" y="240" width="1" height="11" fill="#365a50"/><rect x="851" y="224" width="1" height="24" fill="#161616"/><rect x="850" y="232" width="3" height="10" fill="#161616"/><rect x="851" y="233" width="1" height="8" fill="#365a50"/><rect x="855" y="225" width="1" height="25" fill="#161616"/><rect x="854" y="232" width="3" height="8" fill="#161616"/><rect x="855" y="233" width="1" height="6" fill="#8a3d3f"/><rect x="860" y="212" width="1" height="23" fill="#161616"/><rect x="859" y="218" width="3" height="7" fill="#161616"/><rect x="860" y="219" width="1" height="5" fill="#8a3d3f"/><rect x="864" y="222" width="1" height="25" fill="#161616"/><rect x="863" y="224" width="3" height="10" fill="#161616"/><rect x="864" y="225" width="1" height="8" fill="#8a3d3f"/><rect x="868" y="224" width="1" height="14" fill="#161616"/><rect x="867" y="231" width="3" height="6" fill="#161616"/><rect x="868" y="232" width="1" height="4" fill="#365a50"/><rect x="873" y="217" width="1" height="18" fill="#161616"/><rect x="872" y="223" width="3" height="10" fill="#161616"/><rect x="873" y="224" width="1" height="8" fill="#365a50"/><rect x="877" y="209" width="1" height="18" fill="#161616"/><rect x="876" y="215" width="3" height="10" fill="#161616"/><rect x="877" y="216" width="1" height="8" fill="#365a50"/><rect x="882" y="203" width="1" height="19" fill="#161616"/><rect x="881" y="210" width="3" height="6" fill="#161616"/><rect x="882" y="211" width="1" height="4" fill="#365a50"/><rect x="886" y="204" width="1" height="21" fill="#161616"/><rect x="885" y="212" width="3" height="12" fill="#161616"/><rect x="886" y="213" width="1" height="10" fill="#8a3d3f"/><rect x="890" y="212" width="1" height="20" fill="#161616"/><rect x="889" y="214" width="3" height="7" fill="#161616"/><rect x="890" y="215" width="1" height="5" fill="#365a50"/><rect x="895" y="191" width="1" height="27" fill="#161616"/><rect x="894" y="207" width="3" height="7" fill="#161616"/><rect x="895" y="208" width="1" height="5" fill="#365a50"/><rect x="899" y="206" width="1" height="32" fill="#161616"/><rect x="898" y="208" width="3" height="28" fill="#161616"/><rect x="899" y="209" width="1" height="26" fill="#8a3d3f"/><rect x="903" y="225" width="1" height="13" fill="#161616"/><rect x="902" y="228" width="3" height="9" fill="#161616"/><rect x="903" y="229" width="1" height="7" fill="#365a50"/><rect x="908" y="221" width="1" height="18" fill="#161616"/><rect x="907" y="226" width="3" height="2" fill="#161616"/><rect x="912" y="214" width="1" height="18" fill="#161616"/><rect x="911" y="214" width="3" height="15" fill="#161616"/><rect x="912" y="215" width="1" height="13" fill="#365a50"/><rect x="917" y="212" width="1" height="17" fill="#161616"/><rect x="916" y="215" width="3" height="7" fill="#161616"/><rect x="917" y="216" width="1" height="5" fill="#8a3d3f"/><rect x="921" y="208" width="1" height="18" fill="#161616"/><rect x="920" y="212" width="3" height="10" fill="#161616"/><rect x="921" y="213" width="1" height="8" fill="#365a50"/><rect x="925" y="211" width="1" height="24" fill="#161616"/><rect x="924" y="214" width="3" height="16" fill="#161616"/><rect x="925" y="215" width="1" height="14" fill="#8a3d3f"/><rect x="930" y="225" width="1" height="27" fill="#161616"/><rect x="929" y="229" width="3" height="17" fill="#161616"/><rect x="930" y="230" width="1" height="15" fill="#8a3d3f"/><rect x="934" y="238" width="1" height="29" fill="#161616"/><rect x="933" y="248" width="3" height="14" fill="#161616"/><rect x="934" y="249" width="1" height="12" fill="#8a3d3f"/><rect x="939" y="251" width="1" height="26" fill="#161616"/><rect x="938" y="261" width="3" height="7" fill="#161616"/><rect x="939" y="262" width="1" height="5" fill="#8a3d3f"/><rect x="943" y="246" width="1" height="25" fill="#161616"/><rect x="942" y="247" width="3" height="21" fill="#161616"/><rect x="943" y="248" width="1" height="19" fill="#365a50"/><rect x="947" y="156" width="1" height="58" fill="#161616"/><rect x="946" y="159" width="3" height="42" fill="#161616"/><rect x="947" y="160" width="1" height="40" fill="#365a50"/><rect x="952" y="128" width="1" height="44" fill="#161616"/><rect x="951" y="132" width="3" height="27" fill="#161616"/><rect x="952" y="133" width="1" height="25" fill="#365a50"/><rect x="956" y="100" width="1" height="35" fill="#161616"/><rect x="955" y="116" width="3" height="12" fill="#161616"/><rect x="956" y="117" width="1" height="10" fill="#365a50"/><rect x="960" y="110" width="1" height="34" fill="#161616"/><rect x="959" y="113" width="3" height="24" fill="#161616"/><rect x="960" y="114" width="1" height="22" fill="#8a3d3f"/><rect x="965" y="136" width="1" height="41" fill="#161616"/><rect x="964" y="142" width="3" height="35" fill="#161616"/><rect x="965" y="143" width="1" height="33" fill="#8a3d3f"/><rect x="969" y="147" width="1" height="16" fill="#161616"/><rect x="968" y="152" width="3" height="7" fill="#161616"/><rect x="969" y="153" width="1" height="5" fill="#365a50"/><rect x="974" y="141" width="1" height="49" fill="#161616"/><rect x="973" y="154" width="3" height="16" fill="#161616"/><rect x="974" y="155" width="1" height="14" fill="#8a3d3f"/><rect x="978" y="164" width="1" height="20" fill="#161616"/><rect x="977" y="167" width="3" height="4" fill="#161616"/><rect x="978" y="168" width="1" height="2" fill="#365a50"/></svg>

<!-- TOPBAR -->
<div class="abs" style="left:13.100px;top:5.900px;width:25.800px;height:25.800px;border-radius:13px;background:#a2745a"></div>
<div class="t" style="left:20.500px;top:9.100px;font-size:17.500px;color:#fff;line-height:20px;height:20px;-webkit-text-stroke:0.35px #fff" id="avT">T</div>
<div class="abs" style="left:31.300px;top:0.300px;width:19.400px;height:19.400px;border-radius:10px;background:#fff"></div>
<div class="abs" style="left:32.600px;top:1.600px;width:16.800px;height:16.800px;border-radius:9px;background:#eb384c"></div>
<div class="t" style="left:36px;top:2.900px;font-size:20px;font-weight:bold;color:#fff;line-height:28px;height:28px;transform:scale(0.500);transform-origin:0 0" id="av11">11</div>
<svg class="ic" style="left:62px;top:10px;stroke-width:1.700" width="18" height="18" viewBox="0 0 18 18"><circle cx="7.800" cy="8.200" r="5.200"/><path d="M11.700 12.100L15.800 16.200"/></svg>
<svg class="ic" style="left:160px;top:9px" width="21" height="21" viewBox="0 0 21 21"><circle cx="10.400" cy="10.400" r="9.300"/><path d="M10.400 6v8.800M6 10.400h8.800"/></svg>
<div class="vsep" style="left:194px;top:8px;height:22px"></div>
<div class="vsep" style="left:240px;top:8px;height:22px"></div>
<svg class="ic" style="left:255px;top:8px;stroke-width:1.300" width="20" height="22" viewBox="0 0 20 22"><rect x="3.500" y="4.200" width="4.200" height="13" rx="0.500"/><path d="M5.600 1v3.200M5.600 17.200v3.200"/><rect x="11.600" y="7.400" width="4.200" height="7" rx="0.500"/><path d="M13.700 4.800v2.600M13.700 14.400v2.800"/></svg>
<div class="vsep" style="left:287px;top:8px;height:22px"></div>
<svg class="ic" style="left:302px;top:9px" width="20" height="20" viewBox="0 0 20 20"><path d="M1 7.700L6.100 2.700L10.700 6L17.900 1.100"/><path d="M1.300 18.500V14.300H5.500V18.500M5.500 14.300V11.500H9.600V18.500M9.600 13.500H13.700V18.500M13.700 13.500V8.400H17.700V18.500M1.300 18.500H17.700"/></svg>
<svg class="ic" style="left:408px;top:15px" width="10" height="8" viewBox="0 0 10 8"><path d="M1.500 2l3.500 3.300L8.500 2"/></svg>
<svg class="ic" style="left:435px;top:10px;stroke-width:1.300" width="18" height="18" viewBox="0 0 18 18"><rect x="1.500" y="2" width="5.800" height="5.800" rx="1.800"/><rect x="10.500" y="2" width="5.800" height="5.800" rx="1.800"/><rect x="1.500" y="10.800" width="5.800" height="5.800" rx="1.800"/><rect x="10.500" y="10.800" width="5.800" height="5.800" rx="1.800"/></svg>
<div class="vsep" style="left:467px;top:8px;height:22px"></div>
<svg class="ic" style="left:480px;top:8px" width="22" height="22" viewBox="0 0 22 22"><path d="M18.500 11.500A8 8 0 1 0 10.500 19.500"/><path d="M10.500 6.200V11.500H7.100"/><path d="M0.900 5.600L4.600 1.700M16.200 1.900L19.800 5.500"/><path d="M12.200 17.500H20.900M16.500 13.300V21.700"/></svg>
<svg class="ic" style="left:561px;top:12px" width="18" height="14" viewBox="0 0 18 14"><path d="M7.500 2.500L1.200 7.500L7.500 12.500z"/><path d="M15.800 2.500L9.500 7.500l6.300 5z"/></svg>
<div class="vsep" style="left:642.500px;top:8px;height:22px"></div>
<svg class="ic" style="left:657px;top:12px" width="16" height="14" viewBox="0 0 16 14"><path d="M5.700 1.700L1.700 5.500l4 3.800"/><path d="M1.700 5.500h8a4.700 4.700 0 0 1 4.700 4.700v1.600"/></svg>
<svg class="ic" style="left:696px;top:12px;stroke:#b2b5be" width="16" height="14" viewBox="0 0 16 14"><path d="M10.300 1.700l4 3.800l-4 3.800"/><path d="M14.300 5.500H6.300a4.700 4.700 0 0 0-4.700 4.700v1.600"/></svg>

<svg class="ic" style="left:927px;top:10px" width="20" height="18" viewBox="0 0 20 18"><rect x="0.600" y="1.700" width="17.800" height="16" rx="2.500"/></svg>
<svg class="ic" style="left:1032px;top:15px" width="10" height="8" viewBox="0 0 10 8"><path d="M1.200 2.200l3.700 3.300L8.600 2.200"/></svg>
<div class="vsep" style="left:1053.500px;top:8px;height:22px"></div>
<svg class="ic" style="left:1066px;top:8px" width="22" height="22" viewBox="0 0 22 22"><path d="M7.700 3.200A7.100 7.100 0 1 0 16.600 10.200"/><path d="M14.700 15.800L19.800 20.700"/><path d="M12.200 0.300H13.700L13.800 5.500L16.600 5.700L12.200 12.700L11.400 12.400V7.700L8.600 7Z"/></svg>
<svg class="ic" style="left:1104px;top:8px" width="22" height="22" viewBox="0 0 22 22"><path d="M5.500 2.400H16.600L20.800 10.800L16.600 19.400H5.500L1 10.800Z"/><circle cx="11.100" cy="10.800" r="3.600"/></svg>
<svg class="ic" style="left:1144px;top:10px" width="18" height="18" viewBox="0 0 18 18"><path d="M1.300 5.700V3.900a2.500 2.500 0 0 1 2.500-2.500H5.700M12.200 1.400H14.100a2.500 2.500 0 0 1 2.500 2.500V5.700M16.600 12.200V14a2.500 2.500 0 0 1-2.500 2.500H12.200M5.700 16.500H3.800a2.500 2.500 0 0 1-2.500-2.500V12.200"/></svg>
<svg class="ic" style="left:1179px;top:10px" width="22" height="18" viewBox="0 0 22 18"><path d="M3.900 2.300H6.400L7.600 0.900Q8 0.400 8.600 0.400H14.300Q14.900 0.400 15.300 0.900L16.500 2.300H19.200a2.500 2.500 0 0 1 2.500 2.500V14.100a2.500 2.500 0 0 1-2.500 2.500H3.900a2.500 2.500 0 0 1-2.500-2.500V4.800a2.500 2.500 0 0 1 2.500-2.500Z"/><circle cx="11.500" cy="9.300" r="4.400"/></svg>
<div class="abs" style="left:1214px;top:4.500px;width:71px;height:28.500px;border-radius:14.250px;background:#262626"></div>

<!-- LEGEND -->
<div class="abs" style="left:64px;top:49.500px;width:39.500px;height:17.500px;border-radius:9px;background:linear-gradient(90deg,#d7eeeb 0,#d7eeeb 44%,#fbd7e2 56%,#fbd7e2 100%)"></div>
<div class="abs" style="left:71px;top:54.100px;width:8.400px;height:8.400px;border-radius:4.200px;background:#1a9782"></div>
<div class="t" style="left:87.800px;top:50.300px;font-size:15px;color:#d9386f;font-weight:bold;transform:scaleX(1.150);transform-origin:0 0" id="approx">≈</div>
<div class="abs" style="left:64px;top:145px;width:29px;height:21px;border:1px solid #d9dbe0;border-radius:3px;background:#fff"></div>
<svg class="ic" style="left:73px;top:151px;stroke-width:1.600" width="10" height="8" viewBox="0 0 10 8"><path d="M1.800 5.800L5.100 2.500l3.300 3.300"/></svg>

<!-- TAGS -->
<div class="tag" style="left:1124.300px;top:158.800px;width:48.500px;height:17px;background:#1c9a82"></div>
<div class="tag" style="left:1174.200px;top:158.800px;width:59.300px;height:31px;background:#1c9a82"></div>
<div class="tag" style="left:1174.200px;top:211px;width:55.400px;height:17.200px;background:#e9384f;border-radius:2px 2px 0 0"></div>
<div class="tag" style="left:1174.200px;top:228.200px;width:55.400px;height:16.400px;background:#2e63f0;border-radius:0 0 2px 2px"></div>
<div class="tag" style="left:1174.200px;top:257.200px;width:55.400px;height:16.200px;background:#2e63f0"></div>
<div class="tag" style="left:1174.200px;top:290.500px;width:55.400px;height:15.600px;background:#3322e0"></div>
<div class="tag" style="left:1174px;top:577.300px;width:57.400px;height:15.500px;background:#2aa79b;border-radius:0"></div>

<!-- TIME AXIS -->
<svg class="ic" style="left:1197.500px;top:625.400px" width="18" height="18" viewBox="0 0 18 18"><path d="M6.200 2.800h5.600a1.200 1.200 0 0 1 1 .6l2.900 5a1.200 1.200 0 0 1 0 1.200l-2.900 5a1.200 1.200 0 0 1-1 .6H6.200a1.200 1.200 0 0 1-1-.6l-2.900-5a1.200 1.200 0 0 1 0-1.200l2.900-5a1.200 1.200 0 0 1 1-.6z"/><circle cx="9" cy="9" r="1.900"/></svg>
<div class="hsep" style="left:56px;top:648px;width:1183px"></div>

<!-- RANGE BAR -->
<div class="vsep" style="left:332px;top:657px;height:21.500px"></div>
<svg class="ic" style="left:345px;top:657px" width="22" height="22" viewBox="0 0 22 22"><path d="M3.300 9.500v-3.700a2 2 0 0 1 2-2h12.500a2 2 0 0 1 2 2v10.700a2 2 0 0 1-2 2H12"/><path d="M3.300 8h16.500M8 1.700v3.600M15.300 1.700v3.600"/><path d="M1.500 14.800h7.500M6.200 11.800l3 3l-3 3"/></svg>

<!-- BOTTOM PANEL -->
<svg class="ic" style="left:1174px;top:704px" width="20" height="12" viewBox="0 0 20 12"><path d="M2 8.500L10.500 1L19 8.500"/></svg>
<svg class="ic" style="left:1210px;top:702px" width="18" height="16" viewBox="0 0 18 16"><path d="M2 5.800v-2.800a2.300 2.300 0 0 1 2.300-2.300h11.400a2.300 2.300 0 0 1 2.300 2.300v2.800M18 10.500v2.800a2.300 2.300 0 0 1-2.300 2.300h-11.400a2.300 2.300 0 0 1-2.300-2.300v-2.800"/></svg>

<div class="t" id="sym" style="left:84.10px;top:11.25px;font-size:14px;color:#131722;font-weight:bold;transform:scaleX(0.8673);transform-origin:0 0;">GBPJPY</div>
<div class="t" id="tD" style="left:213.12px;top:11.75px;font-size:13px;color:#131722;transform:scaleX(0.8750);transform-origin:0 0;-webkit-text-stroke:0.2px currentColor;">D</div>
<div class="t" id="tInd" style="left:328.75px;top:11.75px;font-size:13.5px;color:#131722;transform:scaleX(1.0506);transform-origin:0 0;-webkit-text-stroke:0.2px currentColor;">Indicators</div>
<div class="t" id="tAlert" style="left:509.40px;top:11.75px;font-size:13.5px;color:#131722;transform:scaleX(1.0783);transform-origin:0 0;-webkit-text-stroke:0.2px currentColor;">Alert</div>
<div class="t" id="tReplay" style="left:587.03px;top:11.75px;font-size:13.5px;color:#131722;transform:scaleX(0.9667);transform-origin:0 0;-webkit-text-stroke:0.2px currentColor;">Replay</div>
<div class="t" id="tUnnamed" style="left:960.39px;top:6.75px;font-size:13.5px;color:#131722;transform:scaleX(1.0136);transform-origin:0 0;-webkit-text-stroke:0.2px currentColor;">Unnamed</div>
<div class="t" id="tSave" style="left:979.90px;top:18.75px;font-size:10px;color:#3467c9;transform:scaleX(0.8824);transform-origin:0 0;">Save</div>
<div class="t" id="tPublish" style="left:1227.00px;top:11.75px;font-size:13.5px;color:#fff;font-weight:bold;transform:scaleX(0.8947);transform-origin:0 0;">Publish</div>
<div class="t" id="lo" style="left:111.60px;top:51.25px;font-size:12.5px;color:#131722;transform:scaleX(1.0071);transform-origin:0 0;">O202.206</div>
<div class="t" id="lh" style="left:172.99px;top:51.25px;font-size:12.5px;color:#131722;transform:scaleX(1.0139);transform-origin:0 0;">H202.516</div>
<div class="t" id="ll" style="left:234.71px;top:51.25px;font-size:12.5px;color:#131722;transform:scaleX(0.9944);transform-origin:0 0;">L201.596</div>
<div class="t" id="lc" style="left:294.00px;top:51.25px;font-size:12.5px;color:#131722;transform:scaleX(0.9952);transform-origin:0 0;">C202.370</div>
<div class="t" id="lchg" style="left:355.50px;top:51.25px;font-size:12.5px;color:#131722;transform:scaleX(0.9320);transform-origin:0 0;">+0.152</div>
<div class="t" id="lpct" style="left:398.30px;top:51.25px;font-size:12.5px;color:#131722;transform:scaleX(0.9351);transform-origin:0 0;">(+0.08%)</div>
<div class="t" id="volt" style="left:65.60px;top:75.25px;font-size:12.5px;color:#131722;transform:scaleX(1.0170);transform-origin:0 0;">Vol · Ticks</div>
<div class="t" id="volv" style="left:131.90px;top:75.25px;font-size:12.5px;color:#3a9e94;transform:scaleX(0.9795);transform-origin:0 0;">173.56 K</div>
<div class="t" id="ema1" style="left:64.74px;top:99.25px;font-size:12.5px;color:#131722;transform:scaleX(0.8598);transform-origin:0 0;">EMA</div>
<div class="t" id="ema1v" style="left:97.10px;top:99.25px;font-size:12.5px;color:#d0505c;transform:scaleX(0.9860);transform-origin:0 0;">200.035</div>
<div class="t" id="ema2" style="left:64.74px;top:123.25px;font-size:12.5px;color:#131722;transform:scaleX(0.8598);transform-origin:0 0;">EMA</div>
<div class="t" id="ema2v" style="left:97.60px;top:123.25px;font-size:12.5px;color:#4038b5;transform:scaleX(0.9674);transform-origin:0 0;">196.561</div>
<div class="t" id="r1" style="left:71.40px;top:660.75px;font-size:13px;color:#131722;transform:scaleX(0.8564);transform-origin:0 0;">1D</div>
<div class="t" id="r2" style="left:98.70px;top:660.75px;font-size:13px;color:#131722;transform:scaleX(0.9181);transform-origin:0 0;">5D</div>
<div class="t" id="r3" style="left:126.60px;top:660.75px;font-size:13px;color:#131722;transform:scaleX(0.9505);transform-origin:0 0;">1M</div>
<div class="t" id="r4" style="left:155.40px;top:660.75px;font-size:13px;color:#131722;transform:scaleX(0.9808);transform-origin:0 0;">3M</div>
<div class="t" id="r5" style="left:184.70px;top:660.75px;font-size:13px;color:#131722;transform:scaleX(0.9634);transform-origin:0 0;">6M</div>
<div class="t" id="r6" style="left:214.30px;top:660.75px;font-size:13px;color:#131722;transform:scaleX(0.9214);transform-origin:0 0;">YTD</div>
<div class="t" id="r7" style="left:250.80px;top:660.75px;font-size:13px;color:#131722;transform:scaleX(0.9035);transform-origin:0 0;">1Y</div>
<div class="t" id="r8" style="left:278.40px;top:660.75px;font-size:13px;color:#131722;transform:scaleX(0.8688);transform-origin:0 0;">5Y</div>
<div class="t" id="r9" style="left:305.20px;top:660.75px;font-size:13px;color:#131722;transform:scaleX(1.0578);transform-origin:0 0;">All</div>
<div class="t" id="clock" style="left:1144.91px;top:660.75px;font-size:13.5px;color:#131722;transform:scaleX(0.9892);transform-origin:0 0;">15:17:23 UTC</div>
<div class="t" id="pine" style="left:71.78px;top:702.75px;font-size:13.5px;color:#131722;transform:scaleX(1.0177);transform-origin:0 0;">Pine Editor</div>
<div class="t" id="tp" style="left:173.00px;top:702.75px;font-size:13.5px;color:#131722;transform:scaleX(0.9898);transform-origin:0 0;">Trading Panel</div>
<div class="t" id="tagsym" style="left:1128.50px;top:160.25px;font-size:12px;color:#fff;transform:scaleX(0.8660);transform-origin:0 0;z-index:3;-webkit-text-stroke:0.3px currentColor;">GBPJPY</div>
<div class="t" id="tg1" style="left:1182.10px;top:160.25px;font-size:12px;color:#fff;transform:scaleX(0.9519);transform-origin:0 0;z-index:3;-webkit-text-stroke:0.3px currentColor;">202.370</div>
<div class="t" id="tg1b" style="left:1182.00px;top:174.25px;font-size:12px;color:#d9f2ed;transform:scaleX(0.9950);transform-origin:0 0;z-index:3;-webkit-text-stroke:0.3px currentColor;">05:42:37</div>
<div class="t" id="tg2" style="left:1182.10px;top:212.25px;font-size:12px;color:#fff;transform:scaleX(0.9519);transform-origin:0 0;z-index:3;-webkit-text-stroke:0.3px currentColor;">200.035</div>
<div class="t" id="tg3" style="left:1182.10px;top:228.25px;font-size:12px;color:#fff;transform:scaleX(0.9519);transform-origin:0 0;z-index:3;-webkit-text-stroke:0.3px currentColor;">200.000</div>
<div class="t" id="tg4" style="left:1181.50px;top:258.25px;font-size:12px;color:#fff;transform:scaleX(0.9709);transform-origin:0 0;z-index:3;-webkit-text-stroke:0.3px currentColor;">198.000</div>
<div class="t" id="tg5" style="left:1181.50px;top:291.25px;font-size:12px;color:#fff;transform:scaleX(0.9709);transform-origin:0 0;z-index:3;-webkit-text-stroke:0.3px currentColor;">196.561</div>
<div class="t" id="tg6" style="left:1181.30px;top:577.25px;font-size:12px;color:#fff;transform:scaleX(0.9461);transform-origin:0 0;z-index:3;-webkit-text-stroke:0.3px currentColor;">173.56 K</div>
<div class="t" id="p206" style="left:1182.30px;top:77.25px;font-size:12px;color:#131722;transform:scaleX(0.9542);transform-origin:0 0;">206.000</div>
<div class="t" id="p204" style="left:1182.30px;top:122.25px;font-size:12px;color:#131722;transform:scaleX(0.9542);transform-origin:0 0;">204.000</div>
<div class="t" id="p196" style="left:1181.80px;top:303.25px;font-size:12px;color:#131722;transform:scaleX(0.9732);transform-origin:0 0;">196.000</div>
<div class="t" id="p194" style="left:1181.80px;top:348.25px;font-size:12px;color:#131722;transform:scaleX(0.9732);transform-origin:0 0;">194.000</div>
<div class="t" id="p192" style="left:1181.80px;top:393.25px;font-size:12px;color:#131722;transform:scaleX(0.9732);transform-origin:0 0;">192.000</div>
<div class="t" id="p190" style="left:1181.80px;top:438.25px;font-size:12px;color:#131722;transform:scaleX(0.9732);transform-origin:0 0;">190.000</div>
<div class="t" id="p188" style="left:1181.80px;top:484.25px;font-size:12px;color:#131722;transform:scaleX(0.9732);transform-origin:0 0;">188.000</div>
<div class="t" id="p186" style="left:1181.80px;top:529.25px;font-size:12px;color:#131722;transform:scaleX(0.9732);transform-origin:0 0;">186.000</div>
<div class="t" id="m2025" style="left:70.73px;top:626.25px;font-size:12px;color:#131722;font-weight:bold;transform:scaleX(1.0325);transform-origin:0 0;">2025</div>
<div class="t" id="mFeb" style="left:170.79px;top:626.25px;font-size:12px;color:#131722;transform:scaleX(0.9655);transform-origin:0 0;">Feb</div>
<div class="t" id="mMar" style="left:257.64px;top:626.25px;font-size:12px;color:#131722;">Mar</div>
<div class="t" id="mApr" style="left:352.02px;top:626.25px;font-size:12px;color:#131722;transform:scaleX(0.9209);transform-origin:0 0;">Apr</div>
<div class="t" id="mMay" style="left:446.48px;top:626.25px;font-size:12px;color:#131722;transform:scaleX(0.9263);transform-origin:0 0;">May</div>
<div class="t" id="mJun" style="left:544.49px;top:626.25px;font-size:12px;color:#131722;transform:scaleX(0.9479);transform-origin:0 0;">Jun</div>
<div class="t" id="mJul" style="left:637.47px;top:626.25px;font-size:12px;color:#131722;transform:scaleX(1.0699);transform-origin:0 0;">Jul</div>
<div class="t" id="mAug" style="left:735.56px;top:626.25px;font-size:12px;color:#131722;transform:scaleX(1.0156);transform-origin:0 0;">Aug</div>
<div class="t" id="mSep" style="left:826.79px;top:626.25px;font-size:12px;color:#131722;transform:scaleX(0.9835);transform-origin:0 0;">Sep</div>
<div class="t" id="mOct" style="left:924.65px;top:626.25px;font-size:12px;color:#131722;transform:scaleX(1.0086);transform-origin:0 0;">Oct</div>
<div class="t" id="mNov" style="left:1024.09px;top:626.25px;font-size:12px;color:#131722;transform:scaleX(0.9606);transform-origin:0 0;">Nov</div>
<div class="t" id="mDec" style="left:1112.24px;top:626.25px;font-size:12px;color:#131722;transform:scaleX(0.8997);transform-origin:0 0;">Dec</div>
<!-- LEFT TOOLBAR -->
<div class="abs" style="left:9px;top:50px;width:34px;height:34px;border-radius:6px;background:#ececec"></div>
<svg class="ic" style="left:0;top:0;stroke-width:1.150" width="56" height="729" viewBox="0 0 56 729">
<!-- cursor -->
<path d="M19.200 59.700V73.200L22.900 69.700L25.800 76.200L29 74.800L26.200 68.500L30.800 68.200Z" stroke-width="1.150"/>
<!-- trend line -->
<circle cx="34.300" cy="96.400" r="2.200"/><circle cx="17.300" cy="113.500" r="2.200"/><path d="M32.700 98L18.900 111.900"/>
<!-- horizontal lines -->
<path d="M15 133.500H36.500M15 139.600H34M15 145.600H36.500M17.600 151.600H36.500"/><circle cx="36.300" cy="139.600" r="2.200" fill="#fff"/><circle cx="15.300" cy="151.600" r="2.200" fill="#fff"/>
<!-- pattern -->
<path d="M17.300 189.700L20.100 171.900L24.400 179.400L32.600 173.200L35.400 186L24.400 179.400L17.300 189.700"/>
<circle cx="20.100" cy="171.900" r="2" fill="#fff"/><circle cx="32.600" cy="173.200" r="2" fill="#fff"/><circle cx="24.400" cy="179.400" r="2" fill="#fff"/><circle cx="35.400" cy="186" r="2" fill="#fff"/><circle cx="17.300" cy="189.700" r="2" fill="#fff"/>
<!-- forecast -->
<path d="M18.200 211.600H36M18.200 221.800H32.200M18.200 227.500H36"/><path d="M21 219.300L35 213.200" stroke-dasharray="1 2.200"/>
<circle cx="16.100" cy="211.600" r="2"/><circle cx="16.100" cy="221.800" r="2"/><circle cx="34.300" cy="221.800" r="2"/><circle cx="16.100" cy="227.500" r="2"/>
<!-- brush -->
<path d="M14.800 265.400L21.500 256.200Q25.500 253.200 28.300 256.500Q30.500 260.500 25.800 264.600Q24 265.600 14.800 265.400Z"/><path d="M29.300 250.200Q30.500 256.800 34 254.600L39.200 249.700"/>
<!-- text -->
<path d="M19.300 290V286.800H34V290M26.600 286.800V303.300M24 303.300H29.300"/>
<!-- smiley -->
<circle cx="25.900" cy="333" r="10.600"/><circle cx="22.400" cy="330.300" r="0.700" fill="#131722"/><circle cx="29.400" cy="330.300" r="0.700" fill="#131722"/><path d="M21.800 335.500Q25.900 340 30 335.500"/>
<!-- ruler -->
<g transform="translate(25.900 383.800) rotate(-43)"><rect x="-13.500" y="-3.800" width="27" height="7.600" rx="1.200"/><path d="M-9 -3.800v2.600M-5.400 -3.800v3.600M-1.800 -3.800v2.600M1.800 -3.800v3.600M5.400 -3.800v2.600M9 -3.800v3.600"/></g>
<!-- zoom -->
<circle cx="24.200" cy="420.600" r="7.900"/><path d="M24.200 417v7.200M20.600 420.600h7.200M29.900 426.300L33.800 430.200"/>
<!-- magnet -->
<path d="M18 481V471.500a8.200 8.200 0 0 1 16.400 0V481H29V471.500a2.800 2.800 0 0 0-5.600 0V481Z"/><path d="M18 476.300H23.400M29 476.300H34.400"/>
<!-- pencil + lock -->
<path d="M15.200 515.200L16.300 510.500L26.300 501.600Q28.200 500.600 29.600 502.300Q30.800 504 29.600 505.600L19.800 514.200Z"/><path d="M24.200 503.500L27.800 507.300"/>
<rect x="27.800" y="514.300" width="8" height="6.600" rx="1"/><path d="M29.700 514.300v-1.800a2.200 2.200 0 0 1 4.300-0.500"/><circle cx="31.800" cy="517.600" r="0.600" fill="#131722"/>
<!-- lock -->
<rect x="18.800" y="547.200" width="14.800" height="11.300" rx="1.800"/><path d="M22.300 547.200v-2.500a4 4 0 0 1 7.900-1"/><path d="M26.200 551.800v2.200" stroke-width="1.800"/>
<!-- eye -->
<path d="M16 583.200Q20.500 576.400 25.300 576.400Q30.200 576.400 34.500 583.200Q30.200 589.800 25.300 589.800Q20.500 589.800 16 583.200Z"/><circle cx="25.300" cy="583" r="3.400"/>
<path d="M29.200 597.200Q30.200 594.300 32.500 594.600L36.600 591.300M31.300 597Q33 596.700 33.200 595" stroke-width="1"/>
<!-- trash -->
<path d="M18 632.800H35M22.800 632.600v-2.200a1.800 1.800 0 0 1 1.800-1.800h3.800a1.800 1.800 0 0 1 1.800 1.800v2.200M19.600 632.800L21 646.200a2 2 0 0 0 2 1.800h7a2 2 0 0 0 2-1.800L33.400 632.800"/>
</svg>
<div class="hsep" style="left:8px;top:358px;width:36px"></div>
<div class="hsep" style="left:8px;top:447px;width:36px"></div>
<div class="hsep" style="left:8px;top:612px;width:36px"></div>

<!-- RIGHT TOOLBAR -->
<svg class="ic" style="left:1240px;top:0;stroke-width:1.100" width="48" height="729" viewBox="1240 0 48 729">
<!-- watchlist -->
<path d="M1256.500 55.300H1275.500V77.500L1266 72.200L1256.500 77.500Z"/><path d="M1260 60.800H1272M1260 65.300H1272M1260 69.800H1272"/>
<!-- alarm -->
<circle cx="1265.500" cy="112.500" r="10.300"/><path d="M1265.700 106.300V113.300H1261M1254.200 103.800L1259 99.800M1272 99.800L1276.800 103.800"/>
<!-- layers -->
<path d="M1265.600 147.500L1277 154.200L1265.600 161L1254.300 154.200Z"/><path d="M1254.300 160L1265.600 166.700L1277 160"/>
<!-- chat -->
<path d="M1256.500 193.200H1271.700a2.200 2.200 0 0 1 2.200 2.200V207.300a2.200 2.200 0 0 1-2.200 2.200H1260.300L1254.400 213.200V195.400a2.200 2.200 0 0 1 2.200-2.200Z"/><path d="M1274 200.500H1275.500a2.200 2.200 0 0 1 2.200 2.200V217L1272.500 213.200H1264a2.200 2.200 0 0 1-2.200-2.200V209.600"/>
<!-- target -->
<circle cx="1265.900" cy="509.700" r="13.600"/><circle cx="1265.900" cy="509.700" r="7.800"/><circle cx="1265.900" cy="509.700" r="1.900" fill="#131722"/><path d="M1265.900 509.700L1276.500 499.600"/>
<!-- calendar -->
<rect x="1254.500" y="546.700" width="23.300" height="20.500" rx="2.800"/><path d="M1254.500 553.700H1277.800"/><rect x="1258.800" y="543.800" width="2.800" height="5.400" rx="1" fill="#fff"/><rect x="1270.700" y="543.800" width="2.800" height="5.400" rx="1" fill="#fff"/>
<!-- signal -->
<circle cx="1257.300" cy="666.700" r="1.600"/><path d="M1257.500 659.400a7.200 7.200 0 0 1 7.200 7.500M1257.500 653.300a13.300 13.300 0 0 1 13.300 13.600M1257.500 647.300a19.300 19.300 0 0 1 19.300 19.600"/>
<!-- help -->
<path d="M1272.800 693.200A13.600 13.600 0 0 0 1252.800 708.800M1259.200 716.800A13.600 13.600 0 0 0 1279.300 702"/>
<path d="M1277.200 690.600Q1278 694.200 1281.500 695Q1278 695.800 1277.200 699.400Q1276.400 695.800 1272.900 695Q1276.400 694.200 1277.200 690.600Z" stroke-width="1"/>
<path d="M1254.500 709.300Q1255.100 712 1257.700 712.500Q1255.100 713 1254.500 715.700Q1253.900 713 1251.300 712.500Q1253.900 712 1254.500 709.300Z" stroke-width="1"/>
<path d="M1262.500 700.800Q1262.800 697.300 1266.200 697.300Q1269.800 697.500 1269.700 700.700Q1269.500 702.800 1267.500 704Q1266 705 1266 707.300"/><circle cx="1266" cy="710.800" r="1.200"/>
</svg>
<div class="abs" style="left:1249.200px;top:584.900px;width:33.400px;height:33.400px;border-radius:17px;background:#262626"></div>
<svg class="abs" style="left:1249.200px;top:584.900px" width="34" height="34" viewBox="0 0 34 34"><g fill="#fff">
<rect x="8.500" y="8.500" width="3.800" height="3.800" rx="0.800"/><rect x="14.800" y="8.500" width="3.800" height="3.800" rx="0.800"/><rect x="21.100" y="8.500" width="3.800" height="3.800" rx="0.800"/>
<rect x="8.500" y="14.800" width="3.800" height="3.800" rx="0.800"/><rect x="14.800" y="14.800" width="3.800" height="3.800" rx="0.800"/><rect x="21.100" y="14.800" width="3.800" height="3.800" rx="0.800"/>
<rect x="8.500" y="21.100" width="3.800" height="3.800" rx="0.800"/><rect x="14.800" y="21.100" width="3.800" height="3.800" rx="0.800"/><rect x="21.100" y="21.100" width="3.800" height="3.800" rx="0.800"/></g></svg>
<div class="hsep" style="left:1249px;top:630px;width:33px"></div>

<!-- LOGO -->
<svg class="abs" style="left:0;top:0" width="1288" height="729" viewBox="0 0 1288 729">
<g stroke="#fff" stroke-width="3.200" stroke-linejoin="round" fill="#fff">
<path d="M68 591H79.900V605.600H74V596.700H68Z"/>
<circle cx="84.900" cy="594" r="3.100"/>
<path d="M91.300 591H97.800L91.900 605.600H85.300Z"/>
<text x="105" y="605.600" font-family="'Liberation Sans',sans-serif" font-weight="bold" font-size="21" textLength="120.600" lengthAdjust="spacingAndGlyphs">TradingView</text>
</g>
<g fill="#131313" stroke="#131313" stroke-width="0.500"><path d="M68 591H79.900V605.600H74V596.700H68Z"/><circle cx="84.900" cy="594" r="3.100"/><path d="M91.300 591H97.800L91.900 605.600H85.300Z"/>
<text x="105" y="605.600" font-family="'Liberation Sans',sans-serif" font-weight="bold" font-size="21" textLength="120.600" lengthAdjust="spacingAndGlyphs">TradingView</text></g>
<!-- flags -->
<circle cx="979.100" cy="607" r="10.300" fill="#fff" stroke="#9b2fae" stroke-width="1.200"/>
<circle cx="982.300" cy="606.800" r="10.300" fill="#fff" stroke="#e2475c" stroke-width="1.200"/>
<clipPath id="fc"><circle cx="982.300" cy="606.800" r="8"/></clipPath>
<g clip-path="url(#fc)">
<rect x="974" y="598" width="17" height="17" fill="#2b3a8c"/>
<path d="M974.300 598.800L990.300 614.800M990.300 598.800L974.300 614.800" stroke="#fff" stroke-width="2.600"/>
<path d="M974.300 598.800L990.300 614.800M990.300 598.800L974.300 614.800" stroke="#e2475c" stroke-width="1"/>
<path d="M982.300 598V616M973 606.800H992" stroke="#fff" stroke-width="3.800"/>
<path d="M982.300 598V616M973 606.800H992" stroke="#e5524f" stroke-width="1.900"/>
</g>
</svg>

<!-- window corner artefacts -->
<svg class="abs" style="left:0;top:0" width="1288" height="729" viewBox="0 0 1288 729">
<path d="M0 720.500A8.500 8.500 0 0 0 8.500 729H0Z" fill="#f3c4e6"/>
<path d="M0 722.500A6.500 6.500 0 0 0 6.500 729H0Z" fill="#7b2a68"/>
<path d="M1288 720A9 9 0 0 1 1279 729H1288Z" fill="#e9b5dc"/>
<path d="M1288 722A7 7 0 0 1 1281 729H1288Z" fill="#2a0a20"/>
</svg>
</body></html>
